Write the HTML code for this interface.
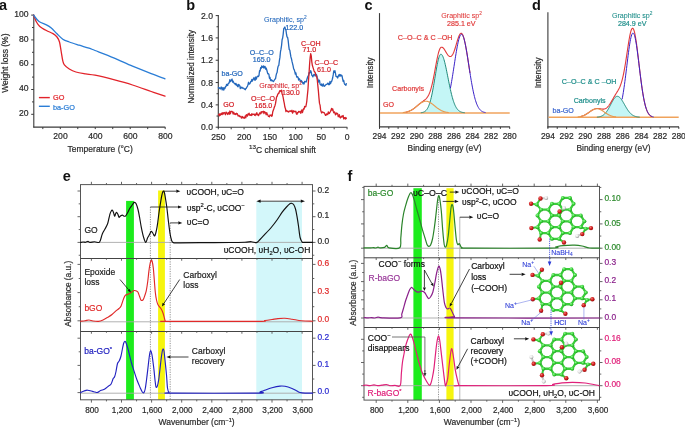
<!DOCTYPE html>
<html><head><meta charset="utf-8"><style>
html,body{margin:0;padding:0;background:#fff;overflow:hidden;}
svg{display:block;font-family:"Liberation Sans", sans-serif;filter:brightness(1);}
</style></head><body>
<svg width="685" height="427" viewBox="0 0 685 427">
<defs>
<radialGradient id="gC" cx="0.38" cy="0.35" r="0.7"><stop offset="0" stop-color="#9af79a"/><stop offset="0.5" stop-color="#3cd83c"/><stop offset="1" stop-color="#1a941a"/></radialGradient>
<radialGradient id="gO" cx="0.38" cy="0.35" r="0.7"><stop offset="0" stop-color="#f07a7a"/><stop offset="0.5" stop-color="#d41c1c"/><stop offset="1" stop-color="#8e0e0e"/></radialGradient>
<radialGradient id="gH" cx="0.38" cy="0.35" r="0.7"><stop offset="0" stop-color="#ffffff"/><stop offset="0.55" stop-color="#e2e2e2"/><stop offset="1" stop-color="#8a8a8a"/></radialGradient>
</defs>
<rect width="685" height="427" fill="#fff"/>
<text x="-0.90" y="9.50" font-size="14.5" fill="#111" text-anchor="start" font-weight="bold" >a</text>
<line x1="33.80" y1="14.50" x2="33.80" y2="127.60" stroke="#3a3a3a" stroke-width="1.1" />
<line x1="33.30" y1="127.10" x2="165.30" y2="127.10" stroke="#3a3a3a" stroke-width="1.1" />
<line x1="31.20" y1="15.10" x2="33.80" y2="15.10" stroke="#3a3a3a" stroke-width="1" />
<text x="28.50" y="16.70" font-size="8.6" fill="#2a2a2a" stroke="#2a2a2a" stroke-width="0.2" text-anchor="end" font-weight="normal" >100</text>
<line x1="31.20" y1="39.90" x2="33.80" y2="39.90" stroke="#3a3a3a" stroke-width="1" />
<text x="28.50" y="41.50" font-size="8.6" fill="#2a2a2a" stroke="#2a2a2a" stroke-width="0.2" text-anchor="end" font-weight="normal" >80</text>
<line x1="31.20" y1="64.70" x2="33.80" y2="64.70" stroke="#3a3a3a" stroke-width="1" />
<text x="28.50" y="66.30" font-size="8.6" fill="#2a2a2a" stroke="#2a2a2a" stroke-width="0.2" text-anchor="end" font-weight="normal" >60</text>
<line x1="31.20" y1="89.50" x2="33.80" y2="89.50" stroke="#3a3a3a" stroke-width="1" />
<text x="28.50" y="91.10" font-size="8.6" fill="#2a2a2a" stroke="#2a2a2a" stroke-width="0.2" text-anchor="end" font-weight="normal" >40</text>
<line x1="31.20" y1="114.30" x2="33.80" y2="114.30" stroke="#3a3a3a" stroke-width="1" />
<text x="28.50" y="115.90" font-size="8.6" fill="#2a2a2a" stroke="#2a2a2a" stroke-width="0.2" text-anchor="end" font-weight="normal" >20</text>
<line x1="32.00" y1="27.50" x2="33.80" y2="27.50" stroke="#3a3a3a" stroke-width="1" />
<line x1="32.00" y1="52.30" x2="33.80" y2="52.30" stroke="#3a3a3a" stroke-width="1" />
<line x1="32.00" y1="77.10" x2="33.80" y2="77.10" stroke="#3a3a3a" stroke-width="1" />
<line x1="32.00" y1="101.90" x2="33.80" y2="101.90" stroke="#3a3a3a" stroke-width="1" />
<line x1="42.82" y1="127.10" x2="42.82" y2="129.10" stroke="#3a3a3a" stroke-width="1" />
<line x1="60.30" y1="127.10" x2="60.30" y2="129.10" stroke="#3a3a3a" stroke-width="1" />
<text x="60.50" y="139.30" font-size="8.6" fill="#2a2a2a" stroke="#2a2a2a" stroke-width="0.2" text-anchor="middle" font-weight="normal" >200</text>
<line x1="77.78" y1="127.10" x2="77.78" y2="129.10" stroke="#3a3a3a" stroke-width="1" />
<line x1="95.26" y1="127.10" x2="95.26" y2="129.10" stroke="#3a3a3a" stroke-width="1" />
<text x="95.46" y="139.30" font-size="8.6" fill="#2a2a2a" stroke="#2a2a2a" stroke-width="0.2" text-anchor="middle" font-weight="normal" >400</text>
<line x1="112.74" y1="127.10" x2="112.74" y2="129.10" stroke="#3a3a3a" stroke-width="1" />
<line x1="130.22" y1="127.10" x2="130.22" y2="129.10" stroke="#3a3a3a" stroke-width="1" />
<text x="130.42" y="139.30" font-size="8.6" fill="#2a2a2a" stroke="#2a2a2a" stroke-width="0.2" text-anchor="middle" font-weight="normal" >600</text>
<line x1="147.70" y1="127.10" x2="147.70" y2="129.10" stroke="#3a3a3a" stroke-width="1" />
<line x1="165.18" y1="127.10" x2="165.18" y2="129.10" stroke="#3a3a3a" stroke-width="1" />
<text x="165.38" y="139.30" font-size="8.6" fill="#2a2a2a" stroke="#2a2a2a" stroke-width="0.2" text-anchor="middle" font-weight="normal" >800</text>
<text x="100.20" y="151.60" font-size="8.5" fill="#2a2a2a" stroke="#2a2a2a" stroke-width="0.2" text-anchor="middle" font-weight="normal" >Temperature (°C)</text>
<text x="0.00" y="0.00" font-size="8.5" fill="#2a2a2a" stroke="#2a2a2a" stroke-width="0.2" text-anchor="middle" font-weight="normal" transform="translate(8.4,63.2) rotate(-90)">Weight loss (%)</text>
<path d="M33.60,15.20 C34.10,16.38 35.57,20.43 36.60,22.30 C37.63,24.17 38.17,25.03 39.80,26.40 C41.43,27.77 44.20,29.30 46.40,30.50 C48.60,31.70 51.23,32.52 53.00,33.60 C54.77,34.68 55.92,35.60 57.00,37.00 C58.08,38.40 58.82,39.67 59.50,42.00 C60.18,44.33 60.55,47.87 61.10,51.00 C61.65,54.13 62.25,58.48 62.80,60.80 C63.35,63.12 63.32,63.53 64.40,64.90 C65.48,66.27 67.38,67.82 69.30,69.00 C71.22,70.18 73.17,71.18 75.90,72.00 C78.63,72.82 82.52,73.37 85.70,73.90 C88.88,74.43 90.33,74.23 95.00,75.20 C99.67,76.17 107.45,78.07 113.70,79.70 C119.95,81.33 126.25,83.03 132.50,85.00 C138.75,86.97 145.78,89.63 151.20,91.50 C156.62,93.37 162.70,95.42 165.00,96.20" fill="none" stroke="#e2232a" stroke-width="1.3" stroke-linejoin="round" stroke-linecap="round" />
<path d="M33.60,15.20 C34.50,16.25 36.87,19.90 39.00,21.50 C41.13,23.10 44.35,23.72 46.40,24.80 C48.45,25.88 49.53,26.50 51.30,28.00 C53.07,29.50 55.08,31.93 57.00,33.80 C58.92,35.67 60.75,37.83 62.80,39.20 C64.85,40.57 66.57,41.00 69.30,42.00 C72.03,43.00 75.92,44.17 79.20,45.20 C82.48,46.23 86.37,47.32 89.00,48.20 C91.63,49.08 90.88,48.90 95.00,50.50 C99.12,52.10 107.45,55.18 113.70,57.80 C119.95,60.42 126.25,63.55 132.50,66.20 C138.75,68.85 145.78,71.60 151.20,73.70 C156.62,75.80 162.70,77.95 165.00,78.80" fill="none" stroke="#2a7dd6" stroke-width="1.3" stroke-linejoin="round" stroke-linecap="round" />
<line x1="38.90" y1="97.60" x2="49.80" y2="97.60" stroke="#e2232a" stroke-width="1.4" />
<text x="53.00" y="100.30" font-size="7.3" fill="#e2232a" stroke="#e2232a" stroke-width="0.2" text-anchor="start" font-weight="normal" >GO</text>
<line x1="38.90" y1="106.30" x2="49.80" y2="106.30" stroke="#2a7dd6" stroke-width="1.4" />
<text x="53.00" y="109.50" font-size="7.3" fill="#2a7dd6" stroke="#2a7dd6" stroke-width="0.2" text-anchor="start" font-weight="normal" >ba-GO</text>
<text x="186.30" y="9.80" font-size="14.5" fill="#111" text-anchor="start" font-weight="bold" >b</text>
<line x1="218.30" y1="15.00" x2="218.30" y2="127.80" stroke="#3a3a3a" stroke-width="1.1" />
<line x1="217.80" y1="127.30" x2="347.30" y2="127.30" stroke="#3a3a3a" stroke-width="1.1" />
<line x1="215.70" y1="127.20" x2="218.30" y2="127.20" stroke="#3a3a3a" stroke-width="1" />
<text x="213.00" y="130.40" font-size="8.6" fill="#2a2a2a" stroke="#2a2a2a" stroke-width="0.2" text-anchor="end" font-weight="normal" >0.0</text>
<line x1="215.70" y1="104.88" x2="218.30" y2="104.88" stroke="#3a3a3a" stroke-width="1" />
<text x="213.00" y="108.08" font-size="8.6" fill="#2a2a2a" stroke="#2a2a2a" stroke-width="0.2" text-anchor="end" font-weight="normal" >0.4</text>
<line x1="215.70" y1="82.56" x2="218.30" y2="82.56" stroke="#3a3a3a" stroke-width="1" />
<text x="213.00" y="85.76" font-size="8.6" fill="#2a2a2a" stroke="#2a2a2a" stroke-width="0.2" text-anchor="end" font-weight="normal" >0.8</text>
<line x1="215.70" y1="60.24" x2="218.30" y2="60.24" stroke="#3a3a3a" stroke-width="1" />
<text x="213.00" y="63.44" font-size="8.6" fill="#2a2a2a" stroke="#2a2a2a" stroke-width="0.2" text-anchor="end" font-weight="normal" >1.2</text>
<line x1="215.70" y1="37.92" x2="218.30" y2="37.92" stroke="#3a3a3a" stroke-width="1" />
<text x="213.00" y="41.12" font-size="8.6" fill="#2a2a2a" stroke="#2a2a2a" stroke-width="0.2" text-anchor="end" font-weight="normal" >1.6</text>
<line x1="215.70" y1="15.60" x2="218.30" y2="15.60" stroke="#3a3a3a" stroke-width="1" />
<text x="213.00" y="18.80" font-size="8.6" fill="#2a2a2a" stroke="#2a2a2a" stroke-width="0.2" text-anchor="end" font-weight="normal" >2.0</text>
<line x1="216.50" y1="116.04" x2="218.30" y2="116.04" stroke="#3a3a3a" stroke-width="1" />
<line x1="216.50" y1="93.72" x2="218.30" y2="93.72" stroke="#3a3a3a" stroke-width="1" />
<line x1="216.50" y1="71.40" x2="218.30" y2="71.40" stroke="#3a3a3a" stroke-width="1" />
<line x1="216.50" y1="49.08" x2="218.30" y2="49.08" stroke="#3a3a3a" stroke-width="1" />
<line x1="216.50" y1="26.76" x2="218.30" y2="26.76" stroke="#3a3a3a" stroke-width="1" />
<line x1="218.30" y1="127.30" x2="218.30" y2="129.30" stroke="#3a3a3a" stroke-width="1" />
<text x="218.30" y="139.50" font-size="8.6" fill="#2a2a2a" stroke="#2a2a2a" stroke-width="0.2" text-anchor="middle" font-weight="normal" >250</text>
<line x1="231.18" y1="127.30" x2="231.18" y2="129.30" stroke="#3a3a3a" stroke-width="1" />
<line x1="244.05" y1="127.30" x2="244.05" y2="129.30" stroke="#3a3a3a" stroke-width="1" />
<text x="244.05" y="139.50" font-size="8.6" fill="#2a2a2a" stroke="#2a2a2a" stroke-width="0.2" text-anchor="middle" font-weight="normal" >200</text>
<line x1="256.93" y1="127.30" x2="256.93" y2="129.30" stroke="#3a3a3a" stroke-width="1" />
<line x1="269.80" y1="127.30" x2="269.80" y2="129.30" stroke="#3a3a3a" stroke-width="1" />
<text x="269.80" y="139.50" font-size="8.6" fill="#2a2a2a" stroke="#2a2a2a" stroke-width="0.2" text-anchor="middle" font-weight="normal" >150</text>
<line x1="282.68" y1="127.30" x2="282.68" y2="129.30" stroke="#3a3a3a" stroke-width="1" />
<line x1="295.55" y1="127.30" x2="295.55" y2="129.30" stroke="#3a3a3a" stroke-width="1" />
<text x="295.55" y="139.50" font-size="8.6" fill="#2a2a2a" stroke="#2a2a2a" stroke-width="0.2" text-anchor="middle" font-weight="normal" >100</text>
<line x1="308.43" y1="127.30" x2="308.43" y2="129.30" stroke="#3a3a3a" stroke-width="1" />
<line x1="321.30" y1="127.30" x2="321.30" y2="129.30" stroke="#3a3a3a" stroke-width="1" />
<text x="321.30" y="139.50" font-size="8.6" fill="#2a2a2a" stroke="#2a2a2a" stroke-width="0.2" text-anchor="middle" font-weight="normal" >50</text>
<line x1="334.18" y1="127.30" x2="334.18" y2="129.30" stroke="#3a3a3a" stroke-width="1" />
<line x1="347.05" y1="127.30" x2="347.05" y2="129.30" stroke="#3a3a3a" stroke-width="1" />
<text x="347.05" y="139.50" font-size="8.6" fill="#2a2a2a" stroke="#2a2a2a" stroke-width="0.2" text-anchor="middle" font-weight="normal" >0</text>
<text x="282.5" y="153" font-size="8.5" fill="#2a2a2a" stroke="#2a2a2a" stroke-width="0.2" text-anchor="middle"><tspan font-size="6.2" dy="-3.6">13</tspan><tspan dy="3.6">C chemical shift</tspan></text>
<text x="0.00" y="0.00" font-size="8.2" fill="#2a2a2a" stroke="#2a2a2a" stroke-width="0.2" text-anchor="middle" font-weight="normal" transform="translate(194.2,66.7) rotate(-90)">Normalized intensity</text>
<path d="M218.30,87.01 L218.85,88.19 L219.40,87.77 L219.95,88.73 L220.50,88.95 L221.05,87.18 L221.60,87.10 L222.15,89.96 L222.70,87.98 L223.25,87.78 L223.80,90.09 L224.35,87.89 L224.90,88.58 L225.45,86.72 L226.00,86.60 L226.55,84.29 L227.10,85.35 L227.65,85.47 L228.20,83.50 L228.75,83.42 L229.30,82.44 L229.85,79.75 L230.40,81.68 L230.95,80.87 L231.50,79.83 L232.05,79.05 L232.60,82.16 L233.15,81.19 L233.70,82.45 L234.25,83.46 L234.80,83.40 L235.35,84.62 L235.90,83.34 L236.45,85.22 L237.00,84.48 L237.55,86.57 L238.10,86.75 L238.65,84.45 L239.20,84.95 L239.75,85.59 L240.30,88.51 L240.85,87.07 L241.40,88.05 L241.95,87.26 L242.50,88.25 L243.05,88.07 L243.60,88.13 L244.15,89.00 L244.70,88.93 L245.25,89.73 L245.80,88.38 L246.35,88.31 L246.90,86.96 L247.45,86.41 L248.00,84.58 L248.55,82.26 L249.10,84.07 L249.65,83.87 L250.20,83.15 L250.75,81.50 L251.30,81.52 L251.85,79.36 L252.40,81.05 L252.95,79.79 L253.50,78.51 L254.05,77.52 L254.60,80.01 L255.15,80.28 L255.70,77.02 L256.25,79.21 L256.80,77.59 L257.35,76.28 L257.90,76.08 L258.45,76.60 L259.00,75.37 L259.55,70.71 L260.10,71.14 L260.65,67.72 L261.20,68.48 L261.75,65.95 L262.30,67.12 L262.85,67.31 L263.40,65.93 L263.95,68.09 L264.50,66.40 L265.05,66.39 L265.60,69.02 L266.15,68.04 L266.70,69.76 L267.25,71.78 L267.80,73.83 L268.35,73.63 L268.90,74.45 L269.45,78.28 L270.00,77.32 L270.55,80.35 L271.10,80.89 L271.65,79.75 L272.20,80.53 L272.75,81.13 L273.30,81.62 L273.85,81.02 L274.40,80.04 L274.95,79.11 L275.50,78.78 L276.05,75.60 L276.60,73.39 L277.15,72.20 L277.70,68.22 L278.25,65.91 L278.80,65.47 L279.35,60.93 L279.90,57.64 L280.45,51.97 L281.00,49.21 L281.55,45.59 L282.10,39.71 L282.65,38.01 L283.20,34.11 L283.75,28.57 L284.30,28.11 L284.85,26.98 L285.40,28.91 L285.95,30.18 L286.50,34.22 L287.05,37.05 L287.60,37.35 L288.15,40.42 L288.70,45.55 L289.25,49.57 L289.80,50.12 L290.35,53.64 L290.90,56.91 L291.45,58.71 L292.00,61.41 L292.55,63.57 L293.10,65.97 L293.65,68.83 L294.20,69.66 L294.75,71.48 L295.30,74.15 L295.85,72.78 L296.40,75.68 L296.95,77.22 L297.50,76.69 L298.05,77.23 L298.60,79.99 L299.15,78.78 L299.70,79.25 L300.25,80.66 L300.80,82.08 L301.35,80.51 L301.90,81.64 L302.45,81.98 L303.00,83.89 L303.55,82.63 L304.10,83.98 L304.65,81.38 L305.20,81.49 L305.75,81.91 L306.30,81.92 L306.85,79.52 L307.40,77.75 L307.95,76.14 L308.50,75.76 L309.05,72.66 L309.60,73.15 L310.15,72.55 L310.70,70.68 L311.25,72.11 L311.80,75.25 L312.35,75.78 L312.90,76.88 L313.45,75.33 L314.00,74.39 L314.55,74.62 L315.10,76.00 L315.65,74.00 L316.20,74.32 L316.75,75.40 L317.30,77.67 L317.85,79.39 L318.40,82.08 L318.95,80.23 L319.50,80.40 L320.05,84.20 L320.60,84.53 L321.15,85.38 L321.70,83.91 L322.25,86.00 L322.80,86.18 L323.35,83.95 L323.90,85.84 L324.45,86.22 L325.00,85.65 L325.55,85.14 L326.10,84.30 L326.65,84.38 L327.20,83.85 L327.75,83.11 L328.30,84.64 L328.85,83.30 L329.40,84.67 L329.95,81.51 L330.50,83.70 L331.05,82.04 L331.60,81.57 L332.15,79.75 L332.70,77.76 L333.25,74.64 L333.80,70.94 L334.35,72.30 L334.90,70.63 L335.45,73.23 L336.00,76.49 L336.55,76.80 L337.10,76.43 L337.65,77.96 L338.20,76.47 L338.75,75.14 L339.30,74.45 L339.85,76.20 L340.40,74.72 L340.95,75.91 L341.50,75.12 L342.05,75.94 L342.60,78.87 L343.15,81.44 L343.70,80.31 L344.25,83.23 L344.80,84.38 L345.35,84.65 L345.90,85.35 L346.45,83.19" fill="none" stroke="#2468bc" stroke-width="1.3" stroke-linejoin="round" />
<path d="M218.30,115.10 L218.85,114.34 L219.40,115.87 L219.95,113.72 L220.50,115.12 L221.05,114.37 L221.60,113.16 L222.15,114.53 L222.70,112.77 L223.25,113.97 L223.80,112.59 L224.35,112.52 L224.90,113.51 L225.45,114.72 L226.00,112.17 L226.55,112.36 L227.10,113.58 L227.65,114.52 L228.20,113.13 L228.75,112.40 L229.30,114.26 L229.85,111.02 L230.40,113.72 L230.95,111.77 L231.50,111.30 L232.05,111.29 L232.60,112.09 L233.15,114.01 L233.70,112.10 L234.25,113.76 L234.80,114.27 L235.35,113.69 L235.90,114.61 L236.45,113.26 L237.00,113.50 L237.55,114.25 L238.10,116.14 L238.65,115.57 L239.20,115.47 L239.75,116.68 L240.30,116.50 L240.85,116.22 L241.40,118.12 L241.95,117.95 L242.50,116.50 L243.05,117.65 L243.60,117.40 L244.15,118.41 L244.70,117.67 L245.25,115.85 L245.80,117.86 L246.35,114.57 L246.90,115.25 L247.45,116.11 L248.00,113.82 L248.55,114.79 L249.10,113.11 L249.65,115.11 L250.20,115.33 L250.75,114.59 L251.30,115.54 L251.85,113.56 L252.40,114.79 L252.95,114.40 L253.50,114.32 L254.05,113.90 L254.60,115.21 L255.15,115.58 L255.70,113.99 L256.25,114.64 L256.80,112.59 L257.35,114.74 L257.90,114.51 L258.45,115.61 L259.00,114.90 L259.55,112.93 L260.10,113.11 L260.65,113.90 L261.20,111.54 L261.75,112.88 L262.30,111.76 L262.85,111.50 L263.40,111.26 L263.95,113.69 L264.50,111.60 L265.05,112.19 L265.60,112.93 L266.15,114.88 L266.70,112.54 L267.25,114.15 L267.80,114.86 L268.35,116.34 L268.90,116.44 L269.45,116.84 L270.00,115.00 L270.55,115.45 L271.10,115.02 L271.65,116.32 L272.20,115.75 L272.75,111.76 L273.30,110.26 L273.85,108.74 L274.40,106.96 L274.95,105.67 L275.50,103.65 L276.05,100.09 L276.60,96.86 L277.15,96.22 L277.70,94.36 L278.25,93.51 L278.80,93.54 L279.35,91.71 L279.90,90.63 L280.45,90.93 L281.00,91.47 L281.55,90.07 L282.10,94.06 L282.65,95.20 L283.20,97.71 L283.75,100.85 L284.30,103.43 L284.85,106.98 L285.40,108.40 L285.95,111.58 L286.50,110.40 L287.05,110.83 L287.60,111.51 L288.15,111.43 L288.70,112.09 L289.25,111.20 L289.80,111.01 L290.35,111.31 L290.90,110.87 L291.45,111.53 L292.00,110.24 L292.55,113.08 L293.10,112.22 L293.65,110.74 L294.20,111.21 L294.75,111.68 L295.30,111.88 L295.85,111.20 L296.40,113.80 L296.95,114.41 L297.50,112.70 L298.05,112.82 L298.60,111.47 L299.15,111.47 L299.70,112.13 L300.25,111.64 L300.80,113.29 L301.35,110.70 L301.90,109.84 L302.45,112.53 L303.00,110.55 L303.55,108.59 L304.10,109.15 L304.65,106.41 L305.20,106.88 L305.75,106.85 L306.30,104.35 L306.85,100.78 L307.40,95.13 L307.95,89.59 L308.50,80.43 L309.05,73.20 L309.60,64.15 L310.15,57.55 L310.70,53.59 L311.25,55.82 L311.80,61.86 L312.35,65.28 L312.90,67.10 L313.45,68.88 L314.00,70.65 L314.55,72.06 L315.10,72.06 L315.65,74.86 L316.20,75.85 L316.75,76.88 L317.30,80.25 L317.85,85.84 L318.40,91.14 L318.95,97.90 L319.50,103.41 L320.05,105.18 L320.60,109.63 L321.15,111.82 L321.70,113.02 L322.25,111.91 L322.80,112.07 L323.35,112.51 L323.90,112.69 L324.45,112.88 L325.00,114.40 L325.55,115.36 L326.10,115.13 L326.65,113.82 L327.20,114.28 L327.75,114.60 L328.30,111.84 L328.85,113.28 L329.40,113.49 L329.95,112.34 L330.50,111.50 L331.05,109.90 L331.60,108.35 L332.15,110.19 L332.70,108.82 L333.25,111.19 L333.80,112.88 L334.35,111.84 L334.90,112.45 L335.45,114.78 L336.00,114.47 L336.55,113.01 L337.10,113.27 L337.65,113.72 L338.20,116.63 L338.75,116.62 L339.30,114.67 L339.85,117.24 L340.40,117.99 L340.95,117.09 L341.50,116.22 L342.05,117.05 L342.60,115.77 L343.15,115.51 L343.70,118.89 L344.25,117.92 L344.80,117.62 L345.35,119.12 L345.90,117.53 L346.45,119.14" fill="none" stroke="#d42028" stroke-width="1.3" stroke-linejoin="round" />
<text x="264.1" y="21.9" font-size="7.1" fill="#2468bc" stroke="#2468bc" stroke-width="0.08">Graphitic, sp<tspan font-size="4.8" dy="-2.8">2</tspan></text>
<text x="285.40" y="29.60" font-size="7.1" fill="#2468bc" stroke="#2468bc" stroke-width="0.2" text-anchor="start" font-weight="normal" >122.0</text>
<text x="261.70" y="54.80" font-size="7.1" fill="#2468bc" stroke="#2468bc" stroke-width="0.2" text-anchor="middle" font-weight="normal" >O–C–O</text>
<text x="261.70" y="61.70" font-size="7.1" fill="#2468bc" stroke="#2468bc" stroke-width="0.2" text-anchor="middle" font-weight="normal" >165.0</text>
<text x="221.60" y="75.80" font-size="7.1" fill="#2468bc" stroke="#2468bc" stroke-width="0.2" text-anchor="start" font-weight="normal" >ba-GO</text>
<text x="310.90" y="45.50" font-size="7.1" fill="#d42028" stroke="#d42028" stroke-width="0.2" text-anchor="middle" font-weight="normal" >C–OH</text>
<text x="309.40" y="52.10" font-size="7.1" fill="#d42028" stroke="#d42028" stroke-width="0.2" text-anchor="middle" font-weight="normal" >71.0</text>
<text x="326.40" y="65.20" font-size="7.1" fill="#d42028" stroke="#d42028" stroke-width="0.2" text-anchor="middle" font-weight="normal" >C–O–C</text>
<text x="324.00" y="71.90" font-size="7.1" fill="#d42028" stroke="#d42028" stroke-width="0.2" text-anchor="middle" font-weight="normal" >61.0</text>
<text x="223.20" y="107.10" font-size="7.1" fill="#d42028" stroke="#d42028" stroke-width="0.2" text-anchor="start" font-weight="normal" >GO</text>
<text x="263.00" y="101.40" font-size="7.1" fill="#d42028" stroke="#d42028" stroke-width="0.2" text-anchor="middle" font-weight="normal" >O=C–O</text>
<text x="263.40" y="108.40" font-size="7.1" fill="#d42028" stroke="#d42028" stroke-width="0.2" text-anchor="middle" font-weight="normal" >165.0</text>
<text x="259.3" y="88.2" font-size="7.1" fill="#d42028" stroke="#d42028" stroke-width="0.08">Graphitic, sp<tspan font-size="4.8" dy="-2.8">2</tspan></text>
<text x="282.00" y="95.00" font-size="7.1" fill="#d42028" stroke="#d42028" stroke-width="0.2" text-anchor="start" font-weight="normal" >130.0</text>
<text x="364.60" y="10.10" font-size="14.5" fill="#111" text-anchor="start" font-weight="bold" >c</text>
<line x1="379.50" y1="13.10" x2="379.50" y2="127.40" stroke="#3a3a3a" stroke-width="1.1" />
<line x1="379.00" y1="126.90" x2="509.90" y2="126.90" stroke="#3a3a3a" stroke-width="1.1" />
<line x1="379.50" y1="126.90" x2="379.50" y2="128.90" stroke="#3a3a3a" stroke-width="1" />
<text x="379.50" y="139.30" font-size="8.4" fill="#2a2a2a" stroke="#2a2a2a" stroke-width="0.2" text-anchor="middle" font-weight="normal" >294</text>
<line x1="388.80" y1="126.90" x2="388.80" y2="128.90" stroke="#3a3a3a" stroke-width="1" />
<line x1="398.10" y1="126.90" x2="398.10" y2="128.90" stroke="#3a3a3a" stroke-width="1" />
<text x="398.10" y="139.30" font-size="8.4" fill="#2a2a2a" stroke="#2a2a2a" stroke-width="0.2" text-anchor="middle" font-weight="normal" >292</text>
<line x1="407.40" y1="126.90" x2="407.40" y2="128.90" stroke="#3a3a3a" stroke-width="1" />
<line x1="416.70" y1="126.90" x2="416.70" y2="128.90" stroke="#3a3a3a" stroke-width="1" />
<text x="416.70" y="139.30" font-size="8.4" fill="#2a2a2a" stroke="#2a2a2a" stroke-width="0.2" text-anchor="middle" font-weight="normal" >290</text>
<line x1="426.00" y1="126.90" x2="426.00" y2="128.90" stroke="#3a3a3a" stroke-width="1" />
<line x1="435.30" y1="126.90" x2="435.30" y2="128.90" stroke="#3a3a3a" stroke-width="1" />
<text x="435.30" y="139.30" font-size="8.4" fill="#2a2a2a" stroke="#2a2a2a" stroke-width="0.2" text-anchor="middle" font-weight="normal" >288</text>
<line x1="444.60" y1="126.90" x2="444.60" y2="128.90" stroke="#3a3a3a" stroke-width="1" />
<line x1="453.90" y1="126.90" x2="453.90" y2="128.90" stroke="#3a3a3a" stroke-width="1" />
<text x="453.90" y="139.30" font-size="8.4" fill="#2a2a2a" stroke="#2a2a2a" stroke-width="0.2" text-anchor="middle" font-weight="normal" >286</text>
<line x1="463.20" y1="126.90" x2="463.20" y2="128.90" stroke="#3a3a3a" stroke-width="1" />
<line x1="472.50" y1="126.90" x2="472.50" y2="128.90" stroke="#3a3a3a" stroke-width="1" />
<text x="472.50" y="139.30" font-size="8.4" fill="#2a2a2a" stroke="#2a2a2a" stroke-width="0.2" text-anchor="middle" font-weight="normal" >284</text>
<line x1="481.80" y1="126.90" x2="481.80" y2="128.90" stroke="#3a3a3a" stroke-width="1" />
<line x1="491.10" y1="126.90" x2="491.10" y2="128.90" stroke="#3a3a3a" stroke-width="1" />
<text x="491.10" y="139.30" font-size="8.4" fill="#2a2a2a" stroke="#2a2a2a" stroke-width="0.2" text-anchor="middle" font-weight="normal" >282</text>
<line x1="500.40" y1="126.90" x2="500.40" y2="128.90" stroke="#3a3a3a" stroke-width="1" />
<line x1="509.70" y1="126.90" x2="509.70" y2="128.90" stroke="#3a3a3a" stroke-width="1" />
<text x="509.70" y="139.30" font-size="8.4" fill="#2a2a2a" stroke="#2a2a2a" stroke-width="0.2" text-anchor="middle" font-weight="normal" >280</text>
<text x="444.60" y="151.10" font-size="8.4" fill="#2a2a2a" stroke="#2a2a2a" stroke-width="0.2" text-anchor="middle" font-weight="normal" >Binding energy (eV)</text>
<text x="0.00" y="0.00" font-size="8.3" fill="#2a2a2a" stroke="#2a2a2a" stroke-width="0.2" text-anchor="middle" font-weight="normal" transform="translate(373.2,72.7) rotate(-90)">Intensity</text>
<path d="M418.80,112.85 L419.20,112.83 L419.60,112.81 L420.00,112.79 L420.40,112.76 L420.80,112.72 L421.20,112.68 L421.60,112.62 L422.00,112.55 L422.40,112.47 L422.80,112.37 L423.20,112.25 L423.60,112.10 L424.00,111.93 L424.40,111.72 L424.80,111.48 L425.20,111.20 L425.60,110.87 L426.00,110.48 L426.40,110.04 L426.80,109.52 L427.20,108.94 L427.60,108.27 L428.00,107.52 L428.40,106.68 L428.80,105.73 L429.20,104.68 L429.60,103.52 L430.00,102.25 L430.40,100.85 L430.80,99.34 L431.20,97.71 L431.60,95.95 L432.00,94.08 L432.40,92.11 L432.80,90.03 L433.20,87.85 L433.60,85.60 L434.00,83.28 L434.40,80.91 L434.80,78.50 L435.20,76.09 L435.60,73.69 L436.00,71.32 L436.40,69.01 L436.80,66.79 L437.20,64.68 L437.60,62.70 L438.00,60.88 L438.40,59.24 L438.80,57.80 L439.20,56.59 L439.60,55.61 L440.00,54.88 L440.40,54.41 L440.80,54.21 L441.20,54.25 L441.60,54.49 L442.00,54.92 L442.40,55.53 L442.80,56.32 L443.20,57.28 L443.60,58.41 L444.00,59.68 L444.40,61.10 L444.80,62.64 L445.20,64.29 L445.60,66.05 L446.00,67.88 L446.40,69.79 L446.80,71.75 L447.20,73.75 L447.60,75.77 L448.00,77.81 L448.40,79.84 L448.80,81.85 L449.20,83.84 L449.60,85.78 L450.00,87.68 L450.40,89.53 L450.80,91.31 L451.20,93.02 L451.60,94.65 L452.00,96.20 L452.40,97.67 L452.80,99.06 L453.20,100.36 L453.60,101.58 L454.00,102.71 L454.40,103.76 L454.80,104.73 L455.20,105.62 L455.60,106.43 L456.00,107.17 L456.40,107.84 L456.80,108.45 L457.20,109.00 L457.60,109.49 L458.00,109.93 L458.40,110.32 L458.80,110.67 L459.20,110.97 L459.60,111.24 L460.00,111.48 L460.40,111.69 L460.80,111.87 L461.20,112.02 L461.60,112.16 L462.00,112.28 L462.40,112.38 L462.80,112.46 L463.20,112.53 L463.60,112.59 L464.00,112.65 L464.40,112.69 L464.80,112.73 L465.20,112.76 L465.60,112.78 L466.00,112.81 L466.40,112.82 L466.80,112.84 L467.20,112.85 Z" fill="#c4f6f6" stroke="none"/>
<line x1="380.00" y1="112.90" x2="509.70" y2="112.90" stroke="#f0a35c" stroke-width="1.45" />
<path d="M420.80,112.72 L421.20,112.68 L421.60,112.62 L422.00,112.55 L422.40,112.47 L422.80,112.37 L423.20,112.25 L423.60,112.10 L424.00,111.93 L424.40,111.72 L424.80,111.48 L425.20,111.20 L425.60,110.87 L426.00,110.48 L426.40,110.04 L426.80,109.52 L427.20,108.94 L427.60,108.27 L428.00,107.52 L428.40,106.68 L428.80,105.73 L429.20,104.68 L429.60,103.52 L430.00,102.25 L430.40,100.85 L430.80,99.34 L431.20,97.71 L431.60,95.95 L432.00,94.08 L432.40,92.11 L432.80,90.03 L433.20,87.85 L433.60,85.60 L434.00,83.28 L434.40,80.91 L434.80,78.50 L435.20,76.09 L435.60,73.69 L436.00,71.32 L436.40,69.01 L436.80,66.79 L437.20,64.68 L437.60,62.70 L438.00,60.88 L438.40,59.24 L438.80,57.80 L439.20,56.59 L439.60,55.61 L440.00,54.88 L440.40,54.41 L440.80,54.21 L441.20,54.25 L441.60,54.49 L442.00,54.92 L442.40,55.53 L442.80,56.32 L443.20,57.28 L443.60,58.41 L444.00,59.68 L444.40,61.10 L444.80,62.64 L445.20,64.29 L445.60,66.05 L446.00,67.88 L446.40,69.79 L446.80,71.75 L447.20,73.75 L447.60,75.77 L448.00,77.81 L448.40,79.84 L448.80,81.85 L449.20,83.84 L449.60,85.78 L450.00,87.68 L450.40,89.53 L450.80,91.31 L451.20,93.02 L451.60,94.65 L452.00,96.20 L452.40,97.67 L452.80,99.06 L453.20,100.36 L453.60,101.58 L454.00,102.71 L454.40,103.76 L454.80,104.73 L455.20,105.62 L455.60,106.43 L456.00,107.17 L456.40,107.84 L456.80,108.45 L457.20,109.00 L457.60,109.49 L458.00,109.93 L458.40,110.32 L458.80,110.67 L459.20,110.97 L459.60,111.24 L460.00,111.48 L460.40,111.69 L460.80,111.87 L461.20,112.02 L461.60,112.16 L462.00,112.28 L462.40,112.38 L462.80,112.46 L463.20,112.53 L463.60,112.59 L464.00,112.65 L464.40,112.69 L464.80,112.73" fill="none" stroke="#1f8a7a" stroke-width="1.0" stroke-linejoin="round" />
<path d="M405.60,112.18 L406.00,112.10 L406.40,112.01 L406.80,111.91 L407.20,111.80 L407.60,111.68 L408.00,111.56 L408.40,111.42 L408.80,111.28 L409.20,111.12 L409.60,110.96 L410.00,110.78 L410.40,110.59 L410.80,110.40 L411.20,110.18 L411.60,109.96 L412.00,109.73 L412.40,109.49 L412.80,109.23 L413.20,108.97 L413.60,108.69 L414.00,108.41 L414.40,108.11 L414.80,107.81 L415.20,107.50 L415.60,107.18 L416.00,106.86 L416.40,106.53 L416.80,106.20 L417.20,105.87 L417.60,105.53 L418.00,105.20 L418.40,104.86 L418.80,104.53 L419.20,104.19 L419.60,103.87 L420.00,103.54 L420.40,103.22 L420.80,102.91 L421.20,102.60 L421.60,102.30 L422.00,102.00 L422.40,101.70 L422.80,101.40 L423.20,101.11 L423.60,100.81 L424.00,100.51 L424.40,100.20 L424.80,99.88 L425.20,99.53 L425.60,99.17 L426.00,98.78 L426.40,98.35 L426.80,97.88 L427.20,97.36 L427.60,96.79 L428.00,96.15 L428.40,95.44 L428.80,94.65 L429.20,93.78 L429.60,92.81 L430.00,91.75 L430.40,90.58 L430.80,89.30 L431.20,87.92 L431.60,86.43 L432.00,84.82 L432.40,83.11 L432.80,81.31 L433.20,79.40 L433.60,77.42 L434.00,75.36 L434.40,73.24 L434.80,71.09 L435.20,68.91 L435.60,66.72 L436.00,64.55 L436.40,62.42 L436.80,60.36 L437.20,58.38 L437.60,56.50 L438.00,54.75 L438.40,53.16 L438.80,51.72 L439.20,50.47 L439.60,49.42 L440.00,48.57 L440.40,47.94 L440.80,47.52 L441.20,47.29 L441.60,47.19 L442.00,47.23 L442.40,47.37 L442.80,47.63 L443.20,47.99 L443.60,48.43 L444.00,48.94 L444.40,49.51 L444.80,50.13 L445.20,50.78 L445.60,51.45 L446.00,52.12 L446.40,52.78 L446.80,53.42 L447.20,54.02 L447.60,54.59 L448.00,55.09 L448.40,55.54 L448.80,55.91 L449.20,56.20 L449.60,56.40 L450.00,56.51 L450.40,56.52 L450.80,56.42 L451.20,56.21 L451.60,55.88 L452.00,55.44 L452.40,54.88 L452.80,54.20 L453.20,53.41 L453.60,52.51 L454.00,51.50 L454.40,50.40 L454.80,49.22 L455.20,47.96 L455.60,46.65 L456.00,45.30 L456.40,43.93 L456.80,42.56 L457.20,41.21 L457.60,39.91 L458.00,38.66 L458.40,37.50 L458.80,36.45 L459.20,35.51 L459.60,34.72 L460.00,34.09 L460.40,33.63 L460.80,33.36 L461.20,33.28 L461.60,33.40 L462.00,33.74 L462.40,34.28 L462.80,35.03 L463.20,35.98 L463.60,37.14 L464.00,38.49 L464.40,40.03 L464.80,41.75 L465.20,43.62 L465.60,45.65 L466.00,47.80 L466.40,50.07 L466.80,52.45 L467.20,54.90 L467.60,57.42 L468.00,59.99 L468.40,62.59 L468.80,65.21 L469.20,67.82 L469.60,70.42 L470.00,72.99" fill="none" stroke="#e23a3a" stroke-width="1.1" stroke-linejoin="round" />
<path d="M402.80,112.58 L403.20,112.54 L403.60,112.49 L404.00,112.44 L404.40,112.39 L404.80,112.32 L405.20,112.25 L405.60,112.18 L406.00,112.10 L406.40,112.01 L406.80,111.91 L407.20,111.80 L407.60,111.68 L408.00,111.56 L408.40,111.42 L408.80,111.28 L409.20,111.12 L409.60,110.96 L410.00,110.78 L410.40,110.59 L410.80,110.40 L411.20,110.19 L411.60,109.96 L412.00,109.73 L412.40,109.49 L412.80,109.23 L413.20,108.97 L413.60,108.69 L414.00,108.41 L414.40,108.11 L414.80,107.81 L415.20,107.50 L415.60,107.19 L416.00,106.87 L416.40,106.54 L416.80,106.22 L417.20,105.89 L417.60,105.56 L418.00,105.23 L418.40,104.90 L418.80,104.58 L419.20,104.26 L419.60,103.95 L420.00,103.65 L420.40,103.36 L420.80,103.09 L421.20,102.82 L421.60,102.57 L422.00,102.34 L422.40,102.13 L422.80,101.94 L423.20,101.76 L423.60,101.61 L424.00,101.48 L424.40,101.38 L424.80,101.30 L425.20,101.24 L425.60,101.21 L426.00,101.20 L426.40,101.22 L426.80,101.26 L427.20,101.33 L427.60,101.43 L428.00,101.54 L428.40,101.68 L428.80,101.85 L429.20,102.03 L429.60,102.23 L430.00,102.46 L430.40,102.70 L430.80,102.95 L431.20,103.22 L431.60,103.51 L432.00,103.80 L432.40,104.11 L432.80,104.42 L433.20,104.74 L433.60,105.06 L434.00,105.39 L434.40,105.72 L434.80,106.05 L435.20,106.38 L435.60,106.71 L436.00,107.03 L436.40,107.35 L436.80,107.66 L437.20,107.97 L437.60,108.26 L438.00,108.55 L438.40,108.83 L438.80,109.10 L439.20,109.36 L439.60,109.61 L440.00,109.85 L440.40,110.08 L440.80,110.29 L441.20,110.50 L441.60,110.69 L442.00,110.87 L442.40,111.04 L442.80,111.20 L443.20,111.35 L443.60,111.49 L444.00,111.62 L444.40,111.74 L444.80,111.85 L445.20,111.96 L445.60,112.05 L446.00,112.14 L446.40,112.22 L446.80,112.29 L447.20,112.36 L447.60,112.42 L448.00,112.47 L448.40,112.52 L448.80,112.56" fill="none" stroke="#e89a50" stroke-width="1.15" stroke-linejoin="round" />
<path d="M450.40,88.16 L450.80,86.05 L451.20,83.85 L451.60,81.56 L452.00,79.20 L452.40,76.76 L452.80,74.26 L453.20,71.72 L453.60,69.14 L454.00,66.53 L454.40,63.92 L454.80,61.32 L455.20,58.74 L455.60,56.20 L456.00,53.72 L456.40,51.32 L456.80,49.01 L457.20,46.82 L457.60,44.75 L458.00,42.83 L458.40,41.08 L458.80,39.50 L459.20,38.11 L459.60,36.92 L460.00,35.94 L460.40,35.19 L460.80,34.66 L461.20,34.37 L461.60,34.31 L462.00,34.48 L462.40,34.90 L462.80,35.54 L463.20,36.40 L463.60,37.49 L464.00,38.78 L464.40,40.26 L464.80,41.93 L465.20,43.77 L465.60,45.77 L466.00,47.90 L466.40,50.15 L466.80,52.51 L467.20,54.95 L467.60,57.46 L468.00,60.02 L468.40,62.62 L468.80,65.23 L469.20,67.84 L469.60,70.43 L470.00,73.00 L470.40,75.52 L470.80,77.99 L471.20,80.39 L471.60,82.72 L472.00,84.96 L472.40,87.12 L472.80,89.18 L473.20,91.14 L473.60,93.00 L474.00,94.76 L474.40,96.41 L474.80,97.95 L475.20,99.39 L475.60,100.73 L476.00,101.97 L476.40,103.11 L476.80,104.16 L477.20,105.12 L477.60,105.99 L478.00,106.79 L478.40,107.51 L478.80,108.16 L479.20,108.74 L479.60,109.27 L480.00,109.73 L480.40,110.15 L480.80,110.51 L481.20,110.84 L481.60,111.13 L482.00,111.38 L482.40,111.60 L482.80,111.79 L483.20,111.95 L483.60,112.10 L484.00,112.22 L484.40,112.33 L484.80,112.42 L485.20,112.50 L485.60,112.56" fill="none" stroke="#3a22c8" stroke-width="1.0" stroke-linejoin="round" />
<text x="441.3" y="17.5" font-size="7.1" fill="#e03a3a" stroke="#e03a3a" stroke-width="0.08">Graphitic sp<tspan font-size="4.8" dy="-2.8">2</tspan></text>
<text x="461.30" y="26.00" font-size="7.1" fill="#e03a3a" stroke="#e03a3a" stroke-width="0.2" text-anchor="middle" font-weight="normal" >285.1 eV</text>
<text x="397.80" y="39.70" font-size="7.2" fill="#e03a3a" stroke="#e03a3a" stroke-width="0.2" text-anchor="start" font-weight="normal" >C–O–C &amp; C –OH</text>
<text x="392.10" y="91.00" font-size="7.1" fill="#e03a3a" stroke="#e03a3a" stroke-width="0.2" text-anchor="start" font-weight="normal" >Carbonyls</text>
<text x="383.00" y="107.30" font-size="7.1" fill="#e03a3a" stroke="#e03a3a" stroke-width="0.2" text-anchor="start" font-weight="normal" >GO</text>
<text x="532.00" y="9.60" font-size="14.5" fill="#111" text-anchor="start" font-weight="bold" >d</text>
<line x1="547.90" y1="12.20" x2="547.90" y2="127.40" stroke="#3a3a3a" stroke-width="1.1" />
<line x1="547.40" y1="126.90" x2="679.00" y2="126.90" stroke="#3a3a3a" stroke-width="1.1" />
<line x1="547.90" y1="126.90" x2="547.90" y2="128.90" stroke="#3a3a3a" stroke-width="1" />
<text x="547.90" y="139.30" font-size="8.4" fill="#2a2a2a" stroke="#2a2a2a" stroke-width="0.2" text-anchor="middle" font-weight="normal" >294</text>
<line x1="557.25" y1="126.90" x2="557.25" y2="128.90" stroke="#3a3a3a" stroke-width="1" />
<line x1="566.60" y1="126.90" x2="566.60" y2="128.90" stroke="#3a3a3a" stroke-width="1" />
<text x="566.60" y="139.30" font-size="8.4" fill="#2a2a2a" stroke="#2a2a2a" stroke-width="0.2" text-anchor="middle" font-weight="normal" >292</text>
<line x1="575.95" y1="126.90" x2="575.95" y2="128.90" stroke="#3a3a3a" stroke-width="1" />
<line x1="585.30" y1="126.90" x2="585.30" y2="128.90" stroke="#3a3a3a" stroke-width="1" />
<text x="585.30" y="139.30" font-size="8.4" fill="#2a2a2a" stroke="#2a2a2a" stroke-width="0.2" text-anchor="middle" font-weight="normal" >290</text>
<line x1="594.65" y1="126.90" x2="594.65" y2="128.90" stroke="#3a3a3a" stroke-width="1" />
<line x1="604.00" y1="126.90" x2="604.00" y2="128.90" stroke="#3a3a3a" stroke-width="1" />
<text x="604.00" y="139.30" font-size="8.4" fill="#2a2a2a" stroke="#2a2a2a" stroke-width="0.2" text-anchor="middle" font-weight="normal" >288</text>
<line x1="613.35" y1="126.90" x2="613.35" y2="128.90" stroke="#3a3a3a" stroke-width="1" />
<line x1="622.70" y1="126.90" x2="622.70" y2="128.90" stroke="#3a3a3a" stroke-width="1" />
<text x="622.70" y="139.30" font-size="8.4" fill="#2a2a2a" stroke="#2a2a2a" stroke-width="0.2" text-anchor="middle" font-weight="normal" >286</text>
<line x1="632.05" y1="126.90" x2="632.05" y2="128.90" stroke="#3a3a3a" stroke-width="1" />
<line x1="641.40" y1="126.90" x2="641.40" y2="128.90" stroke="#3a3a3a" stroke-width="1" />
<text x="641.40" y="139.30" font-size="8.4" fill="#2a2a2a" stroke="#2a2a2a" stroke-width="0.2" text-anchor="middle" font-weight="normal" >284</text>
<line x1="650.75" y1="126.90" x2="650.75" y2="128.90" stroke="#3a3a3a" stroke-width="1" />
<line x1="660.10" y1="126.90" x2="660.10" y2="128.90" stroke="#3a3a3a" stroke-width="1" />
<text x="660.10" y="139.30" font-size="8.4" fill="#2a2a2a" stroke="#2a2a2a" stroke-width="0.2" text-anchor="middle" font-weight="normal" >282</text>
<line x1="669.45" y1="126.90" x2="669.45" y2="128.90" stroke="#3a3a3a" stroke-width="1" />
<line x1="678.80" y1="126.90" x2="678.80" y2="128.90" stroke="#3a3a3a" stroke-width="1" />
<text x="678.80" y="139.30" font-size="8.4" fill="#2a2a2a" stroke="#2a2a2a" stroke-width="0.2" text-anchor="middle" font-weight="normal" >280</text>
<text x="613.50" y="151.10" font-size="8.4" fill="#2a2a2a" stroke="#2a2a2a" stroke-width="0.2" text-anchor="middle" font-weight="normal" >Binding energy (eV)</text>
<text x="0.00" y="0.00" font-size="8.3" fill="#2a2a2a" stroke="#2a2a2a" stroke-width="0.2" text-anchor="middle" font-weight="normal" transform="translate(540.9,72.8) rotate(-90)">Intensity</text>
<path d="M594.50,117.25 L594.90,117.23 L595.30,117.22 L595.70,117.20 L596.10,117.18 L596.50,117.15 L596.90,117.12 L597.30,117.09 L597.70,117.04 L598.10,116.99 L598.50,116.94 L598.90,116.87 L599.30,116.79 L599.70,116.70 L600.10,116.60 L600.50,116.48 L600.90,116.34 L601.30,116.19 L601.70,116.01 L602.10,115.82 L602.50,115.60 L602.90,115.36 L603.30,115.09 L603.70,114.79 L604.10,114.46 L604.50,114.10 L604.90,113.70 L605.30,113.28 L605.70,112.82 L606.10,112.32 L606.50,111.79 L606.90,111.23 L607.30,110.64 L607.70,110.01 L608.10,109.35 L608.50,108.67 L608.90,107.96 L609.30,107.23 L609.70,106.48 L610.10,105.72 L610.50,104.95 L610.90,104.18 L611.30,103.41 L611.70,102.65 L612.10,101.90 L612.50,101.18 L612.90,100.48 L613.30,99.82 L613.70,99.20 L614.10,98.63 L614.50,98.11 L614.90,97.64 L615.30,97.24 L615.70,96.91 L616.10,96.64 L616.50,96.45 L616.90,96.34 L617.30,96.30 L617.70,96.33 L618.10,96.43 L618.50,96.59 L618.90,96.81 L619.30,97.09 L619.70,97.43 L620.10,97.83 L620.50,98.27 L620.90,98.77 L621.30,99.30 L621.70,99.88 L622.10,100.48 L622.50,101.12 L622.90,101.78 L623.30,102.46 L623.70,103.15 L624.10,103.86 L624.50,104.56 L624.90,105.27 L625.30,105.97 L625.70,106.67 L626.10,107.35 L626.50,108.02 L626.90,108.67 L627.30,109.30 L627.70,109.90 L628.10,110.48 L628.50,111.04 L628.90,111.56 L629.30,112.06 L629.70,112.53 L630.10,112.98 L630.50,113.39 L630.90,113.77 L631.30,114.13 L631.70,114.46 L632.10,114.76 L632.50,115.04 L632.90,115.29 L633.30,115.52 L633.70,115.73 L634.10,115.92 L634.50,116.09 L634.90,116.24 L635.30,116.38 L635.70,116.50 L636.10,116.61 L636.50,116.70 L636.90,116.78 L637.30,116.86 L637.70,116.92 L638.10,116.98 L638.50,117.02 L638.90,117.07 L639.30,117.10 L639.70,117.13 L640.10,117.16 L640.50,117.18 L640.90,117.20 L641.30,117.22 L641.70,117.23 L642.10,117.24 Z" fill="#c4f6f6" stroke="none"/>
<line x1="548.50" y1="117.30" x2="678.70" y2="117.30" stroke="#f0a35c" stroke-width="1.45" />
<path d="M596.90,117.12 L597.30,117.09 L597.70,117.04 L598.10,116.99 L598.50,116.94 L598.90,116.87 L599.30,116.79 L599.70,116.70 L600.10,116.60 L600.50,116.48 L600.90,116.34 L601.30,116.19 L601.70,116.01 L602.10,115.82 L602.50,115.60 L602.90,115.36 L603.30,115.09 L603.70,114.79 L604.10,114.46 L604.50,114.10 L604.90,113.70 L605.30,113.28 L605.70,112.82 L606.10,112.32 L606.50,111.79 L606.90,111.23 L607.30,110.64 L607.70,110.01 L608.10,109.35 L608.50,108.67 L608.90,107.96 L609.30,107.23 L609.70,106.48 L610.10,105.72 L610.50,104.95 L610.90,104.18 L611.30,103.41 L611.70,102.65 L612.10,101.90 L612.50,101.18 L612.90,100.48 L613.30,99.82 L613.70,99.20 L614.10,98.63 L614.50,98.11 L614.90,97.64 L615.30,97.24 L615.70,96.91 L616.10,96.64 L616.50,96.45 L616.90,96.34 L617.30,96.30 L617.70,96.33 L618.10,96.43 L618.50,96.59 L618.90,96.81 L619.30,97.09 L619.70,97.43 L620.10,97.83 L620.50,98.27 L620.90,98.77 L621.30,99.30 L621.70,99.88 L622.10,100.48 L622.50,101.12 L622.90,101.78 L623.30,102.46 L623.70,103.15 L624.10,103.86 L624.50,104.56 L624.90,105.27 L625.30,105.97 L625.70,106.67 L626.10,107.35 L626.50,108.02 L626.90,108.67 L627.30,109.30 L627.70,109.90 L628.10,110.48 L628.50,111.04 L628.90,111.56 L629.30,112.06 L629.70,112.53 L630.10,112.98 L630.50,113.39 L630.90,113.77 L631.30,114.13 L631.70,114.46 L632.10,114.76 L632.50,115.04 L632.90,115.29 L633.30,115.52 L633.70,115.73 L634.10,115.92 L634.50,116.09 L634.90,116.24 L635.30,116.38 L635.70,116.50 L636.10,116.61 L636.50,116.70 L636.90,116.78 L637.30,116.86 L637.70,116.92 L638.10,116.98 L638.50,117.02 L638.90,117.07 L639.30,117.10 L639.70,117.13" fill="none" stroke="#1f8a7a" stroke-width="1.0" stroke-linejoin="round" />
<path d="M580.50,116.51 L580.90,116.42 L581.30,116.31 L581.70,116.20 L582.10,116.07 L582.50,115.94 L582.90,115.79 L583.30,115.64 L583.70,115.47 L584.10,115.30 L584.50,115.11 L584.90,114.91 L585.30,114.70 L585.70,114.48 L586.10,114.25 L586.50,114.01 L586.90,113.76 L587.30,113.51 L587.70,113.25 L588.10,112.98 L588.50,112.71 L588.90,112.43 L589.30,112.15 L589.70,111.87 L590.10,111.59 L590.50,111.32 L590.90,111.05 L591.30,110.78 L591.70,110.53 L592.10,110.28 L592.50,110.04 L592.90,109.82 L593.30,109.61 L593.70,109.41 L594.10,109.24 L594.50,109.08 L594.90,108.93 L595.30,108.81 L595.70,108.71 L596.10,108.63 L596.50,108.57 L596.90,108.52 L597.30,108.50 L597.70,108.49 L598.10,108.50 L598.50,108.53 L598.90,108.57 L599.30,108.62 L599.70,108.68 L600.10,108.74 L600.50,108.81 L600.90,108.88 L601.30,108.95 L601.70,109.01 L602.10,109.06 L602.50,109.09 L602.90,109.11 L603.30,109.11 L603.70,109.08 L604.10,109.03 L604.50,108.95 L604.90,108.83 L605.30,108.68 L605.70,108.49 L606.10,108.26 L606.50,107.99 L606.90,107.68 L607.30,107.32 L607.70,106.93 L608.10,106.49 L608.50,106.01 L608.90,105.50 L609.30,104.94 L609.70,104.36 L610.10,103.75 L610.50,103.11 L610.90,102.44 L611.30,101.76 L611.70,101.07 L612.10,100.37 L612.50,99.66 L612.90,98.95 L613.30,98.24 L613.70,97.54 L614.10,96.85 L614.50,96.17 L614.90,95.49 L615.30,94.84 L615.70,94.19 L616.10,93.55 L616.50,92.92 L616.90,92.29 L617.30,91.65 L617.70,91.00 L618.10,90.33 L618.50,89.62 L618.90,88.86 L619.30,88.05 L619.70,87.17 L620.10,86.23 L620.50,85.20 L620.90,84.09 L621.30,82.87 L621.70,81.55 L622.10,80.12 L622.50,78.57 L622.90,76.89 L623.30,75.09 L623.70,73.16 L624.10,71.11 L624.50,68.93 L624.90,66.64 L625.30,64.25 L625.70,61.76 L626.10,59.19 L626.50,56.56 L626.90,53.90 L627.30,51.21 L627.70,48.54 L628.10,45.90 L628.50,43.33 L628.90,40.86 L629.30,38.53 L629.70,36.36 L630.10,34.38 L630.50,32.64 L630.90,31.15 L631.30,29.95 L631.70,29.05 L632.10,28.47 L632.50,28.23 L632.90,28.33 L633.30,28.78 L633.70,29.58 L634.10,30.71 L634.50,32.17 L634.90,33.94 L635.30,36.00 L635.70,38.33 L636.10,40.89 L636.50,43.67 L636.90,46.63 L637.30,49.74 L637.70,52.97 L638.10,56.30 L638.50,59.67 L638.90,63.08 L639.30,66.49 L639.70,69.88 L640.10,73.22 L640.50,76.48 L640.90,79.66 L641.30,82.73 L641.70,85.68 L642.10,88.49 L642.50,91.16 L642.90,93.68 L643.30,96.04 L643.70,98.25 L644.10,100.30 L644.50,102.19 L644.90,103.92 L645.30,105.51 L645.70,106.95 L646.10,108.25 L646.50,109.42 L646.90,110.47 L647.30,111.40 L647.70,112.23 L648.10,112.95 L648.50,113.59 L648.90,114.15 L649.30,114.64 L649.70,115.06 L650.10,115.42 L650.50,115.73 L650.90,115.99 L651.30,116.22 L651.70,116.41 L652.10,116.57" fill="none" stroke="#e23a3a" stroke-width="1.1" stroke-linejoin="round" />
<path d="M577.70,116.98 L578.10,116.93 L578.50,116.88 L578.90,116.82 L579.30,116.75 L579.70,116.68 L580.10,116.60 L580.50,116.51 L580.90,116.42 L581.30,116.31 L581.70,116.20 L582.10,116.07 L582.50,115.94 L582.90,115.79 L583.30,115.64 L583.70,115.47 L584.10,115.30 L584.50,115.11 L584.90,114.91 L585.30,114.70 L585.70,114.48 L586.10,114.25 L586.50,114.01 L586.90,113.76 L587.30,113.51 L587.70,113.25 L588.10,112.98 L588.50,112.71 L588.90,112.43 L589.30,112.15 L589.70,111.88 L590.10,111.60 L590.50,111.32 L590.90,111.06 L591.30,110.79 L591.70,110.54 L592.10,110.29 L592.50,110.06 L592.90,109.84 L593.30,109.64 L593.70,109.45 L594.10,109.28 L594.50,109.13 L594.90,109.00 L595.30,108.89 L595.70,108.81 L596.10,108.75 L596.50,108.71 L596.90,108.70 L597.30,108.71 L597.70,108.75 L598.10,108.81 L598.50,108.89 L598.90,109.00 L599.30,109.13 L599.70,109.28 L600.10,109.45 L600.50,109.64 L600.90,109.84 L601.30,110.06 L601.70,110.29 L602.10,110.54 L602.50,110.79 L602.90,111.06 L603.30,111.32 L603.70,111.60 L604.10,111.88 L604.50,112.15 L604.90,112.43 L605.30,112.71 L605.70,112.98 L606.10,113.25 L606.50,113.51 L606.90,113.76 L607.30,114.01 L607.70,114.25 L608.10,114.48 L608.50,114.70 L608.90,114.91 L609.30,115.11 L609.70,115.30 L610.10,115.47 L610.50,115.64 L610.90,115.79 L611.30,115.94 L611.70,116.07 L612.10,116.20 L612.50,116.31 L612.90,116.42 L613.30,116.51 L613.70,116.60 L614.10,116.68 L614.50,116.75 L614.90,116.82 L615.30,116.88 L615.70,116.93 L616.10,116.98" fill="none" stroke="#e89a50" stroke-width="1.15" stroke-linejoin="round" />
<path d="M622.10,99.32 L622.50,97.21 L622.90,94.93 L623.30,92.51 L623.70,89.93 L624.10,87.21 L624.50,84.36 L624.90,81.39 L625.30,78.31 L625.70,75.15 L626.10,71.92 L626.50,68.64 L626.90,65.34 L627.30,62.06 L627.70,58.80 L628.10,55.61 L628.50,52.52 L628.90,49.56 L629.30,46.75 L629.70,44.13 L630.10,41.74 L630.50,39.58 L630.90,37.70 L631.30,36.11 L631.70,34.83 L632.10,33.88 L632.50,33.27 L632.90,33.01 L633.30,33.10 L633.70,33.54 L634.10,34.32 L634.50,35.43 L634.90,36.87 L635.30,38.61 L635.70,40.63 L636.10,42.91 L636.50,45.42 L636.90,48.13 L637.30,51.02 L637.70,54.05 L638.10,57.20 L638.50,60.42 L638.90,63.70 L639.30,66.99 L639.70,70.28 L640.10,73.54 L640.50,76.74 L640.90,79.87 L641.30,82.89 L641.70,85.80 L642.10,88.59 L642.50,91.24 L642.90,93.74 L643.30,96.09 L643.70,98.29 L644.10,100.32 L644.50,102.21 L644.90,103.94 L645.30,105.52 L645.70,106.96 L646.10,108.26 L646.50,109.42 L646.90,110.47 L647.30,111.40 L647.70,112.23 L648.10,112.96 L648.50,113.60 L648.90,114.15 L649.30,114.64 L649.70,115.06 L650.10,115.42 L650.50,115.73 L650.90,115.99 L651.30,116.22 L651.70,116.41 L652.10,116.57 L652.50,116.70 L652.90,116.81 L653.30,116.90 L653.70,116.98" fill="none" stroke="#3a22c8" stroke-width="1.0" stroke-linejoin="round" />
<text x="611.9" y="17.7" font-size="7.1" fill="#1e8e8a" stroke="#1e8e8a" stroke-width="0.08">Graphitic sp<tspan font-size="4.8" dy="-2.8">2</tspan></text>
<text x="632.20" y="26.10" font-size="7.1" fill="#1e8e8a" stroke="#1e8e8a" stroke-width="0.2" text-anchor="middle" font-weight="normal" >284.9 eV</text>
<text x="561.70" y="84.10" font-size="7.2" fill="#1e8e8a" stroke="#1e8e8a" stroke-width="0.2" text-anchor="start" font-weight="normal" >C–O–C &amp; C –OH</text>
<text x="573.70" y="103.10" font-size="7.1" fill="#1e8e8a" stroke="#1e8e8a" stroke-width="0.2" text-anchor="start" font-weight="normal" >Carbonyls</text>
<text x="552.60" y="113.00" font-size="7.1" fill="#3a66d0" stroke="#3a66d0" stroke-width="0.2" text-anchor="start" font-weight="normal" >ba-GO</text>
<text x="62.80" y="181.40" font-size="14.5" fill="#111" text-anchor="start" font-weight="bold" >e</text>
<rect x="256.30" y="201.60" width="45.70" height="198.20" fill="#d3f7fa" />
<rect x="126.10" y="200.90" width="7.80" height="198.90" fill="#1cec1c" />
<rect x="158.10" y="190.50" width="6.80" height="209.30" fill="#f6f50e" />
<line x1="80.50" y1="242.40" x2="312.50" y2="242.40" stroke="#a8a8a8" stroke-width="0.9" />
<line x1="80.50" y1="321.80" x2="312.50" y2="321.80" stroke="#a8a8a8" stroke-width="0.9" />
<line x1="80.50" y1="393.20" x2="312.50" y2="393.20" stroke="#a8a8a8" stroke-width="0.9" />
<line x1="150.40" y1="207.00" x2="150.40" y2="399.80" stroke="#777" stroke-width="0.8" stroke-dasharray="1.2,1.2"/>
<line x1="170.20" y1="222.90" x2="170.20" y2="399.80" stroke="#777" stroke-width="0.8" stroke-dasharray="1.2,1.2"/>
<rect x="80.5" y="184.6" width="232.0" height="215.20000000000002" fill="none" stroke="#555555" stroke-width="1"/>
<line x1="80.50" y1="258.50" x2="312.50" y2="258.50" stroke="#444" stroke-width="1.0" />
<line x1="80.50" y1="331.50" x2="312.50" y2="331.50" stroke="#444" stroke-width="1.0" />
<line x1="91.40" y1="181.80" x2="91.40" y2="184.60" stroke="#555555" stroke-width="0.9" />
<line x1="91.40" y1="399.80" x2="91.40" y2="402.60" stroke="#555555" stroke-width="0.9" />
<line x1="91.40" y1="258.50" x2="91.40" y2="260.74" stroke="#555555" stroke-width="0.9" />
<line x1="91.40" y1="331.50" x2="91.40" y2="333.74" stroke="#555555" stroke-width="0.9" />
<text x="92.00" y="412.60" font-size="8.2" fill="#2a2a2a" stroke="#2a2a2a" stroke-width="0.2" text-anchor="middle" font-weight="normal" >800</text>
<line x1="106.45" y1="183.00" x2="106.45" y2="184.60" stroke="#555555" stroke-width="0.9" />
<line x1="106.45" y1="399.80" x2="106.45" y2="401.40" stroke="#555555" stroke-width="0.9" />
<line x1="106.45" y1="258.50" x2="106.45" y2="259.78" stroke="#555555" stroke-width="0.9" />
<line x1="106.45" y1="331.50" x2="106.45" y2="332.78" stroke="#555555" stroke-width="0.9" />
<line x1="121.50" y1="181.80" x2="121.50" y2="184.60" stroke="#555555" stroke-width="0.9" />
<line x1="121.50" y1="399.80" x2="121.50" y2="402.60" stroke="#555555" stroke-width="0.9" />
<line x1="121.50" y1="258.50" x2="121.50" y2="260.74" stroke="#555555" stroke-width="0.9" />
<line x1="121.50" y1="331.50" x2="121.50" y2="333.74" stroke="#555555" stroke-width="0.9" />
<text x="122.10" y="412.60" font-size="8.2" fill="#2a2a2a" stroke="#2a2a2a" stroke-width="0.2" text-anchor="middle" font-weight="normal" >1,200</text>
<line x1="136.55" y1="183.00" x2="136.55" y2="184.60" stroke="#555555" stroke-width="0.9" />
<line x1="136.55" y1="399.80" x2="136.55" y2="401.40" stroke="#555555" stroke-width="0.9" />
<line x1="136.55" y1="258.50" x2="136.55" y2="259.78" stroke="#555555" stroke-width="0.9" />
<line x1="136.55" y1="331.50" x2="136.55" y2="332.78" stroke="#555555" stroke-width="0.9" />
<line x1="151.60" y1="181.80" x2="151.60" y2="184.60" stroke="#555555" stroke-width="0.9" />
<line x1="151.60" y1="399.80" x2="151.60" y2="402.60" stroke="#555555" stroke-width="0.9" />
<line x1="151.60" y1="258.50" x2="151.60" y2="260.74" stroke="#555555" stroke-width="0.9" />
<line x1="151.60" y1="331.50" x2="151.60" y2="333.74" stroke="#555555" stroke-width="0.9" />
<text x="152.20" y="412.60" font-size="8.2" fill="#2a2a2a" stroke="#2a2a2a" stroke-width="0.2" text-anchor="middle" font-weight="normal" >1,600</text>
<line x1="166.65" y1="183.00" x2="166.65" y2="184.60" stroke="#555555" stroke-width="0.9" />
<line x1="166.65" y1="399.80" x2="166.65" y2="401.40" stroke="#555555" stroke-width="0.9" />
<line x1="166.65" y1="258.50" x2="166.65" y2="259.78" stroke="#555555" stroke-width="0.9" />
<line x1="166.65" y1="331.50" x2="166.65" y2="332.78" stroke="#555555" stroke-width="0.9" />
<line x1="181.70" y1="181.80" x2="181.70" y2="184.60" stroke="#555555" stroke-width="0.9" />
<line x1="181.70" y1="399.80" x2="181.70" y2="402.60" stroke="#555555" stroke-width="0.9" />
<line x1="181.70" y1="258.50" x2="181.70" y2="260.74" stroke="#555555" stroke-width="0.9" />
<line x1="181.70" y1="331.50" x2="181.70" y2="333.74" stroke="#555555" stroke-width="0.9" />
<text x="182.30" y="412.60" font-size="8.2" fill="#2a2a2a" stroke="#2a2a2a" stroke-width="0.2" text-anchor="middle" font-weight="normal" >2,000</text>
<line x1="196.75" y1="183.00" x2="196.75" y2="184.60" stroke="#555555" stroke-width="0.9" />
<line x1="196.75" y1="399.80" x2="196.75" y2="401.40" stroke="#555555" stroke-width="0.9" />
<line x1="196.75" y1="258.50" x2="196.75" y2="259.78" stroke="#555555" stroke-width="0.9" />
<line x1="196.75" y1="331.50" x2="196.75" y2="332.78" stroke="#555555" stroke-width="0.9" />
<line x1="211.80" y1="181.80" x2="211.80" y2="184.60" stroke="#555555" stroke-width="0.9" />
<line x1="211.80" y1="399.80" x2="211.80" y2="402.60" stroke="#555555" stroke-width="0.9" />
<line x1="211.80" y1="258.50" x2="211.80" y2="260.74" stroke="#555555" stroke-width="0.9" />
<line x1="211.80" y1="331.50" x2="211.80" y2="333.74" stroke="#555555" stroke-width="0.9" />
<text x="212.40" y="412.60" font-size="8.2" fill="#2a2a2a" stroke="#2a2a2a" stroke-width="0.2" text-anchor="middle" font-weight="normal" >2,400</text>
<line x1="226.85" y1="183.00" x2="226.85" y2="184.60" stroke="#555555" stroke-width="0.9" />
<line x1="226.85" y1="399.80" x2="226.85" y2="401.40" stroke="#555555" stroke-width="0.9" />
<line x1="226.85" y1="258.50" x2="226.85" y2="259.78" stroke="#555555" stroke-width="0.9" />
<line x1="226.85" y1="331.50" x2="226.85" y2="332.78" stroke="#555555" stroke-width="0.9" />
<line x1="241.90" y1="181.80" x2="241.90" y2="184.60" stroke="#555555" stroke-width="0.9" />
<line x1="241.90" y1="399.80" x2="241.90" y2="402.60" stroke="#555555" stroke-width="0.9" />
<line x1="241.90" y1="258.50" x2="241.90" y2="260.74" stroke="#555555" stroke-width="0.9" />
<line x1="241.90" y1="331.50" x2="241.90" y2="333.74" stroke="#555555" stroke-width="0.9" />
<text x="242.50" y="412.60" font-size="8.2" fill="#2a2a2a" stroke="#2a2a2a" stroke-width="0.2" text-anchor="middle" font-weight="normal" >2,800</text>
<line x1="256.95" y1="183.00" x2="256.95" y2="184.60" stroke="#555555" stroke-width="0.9" />
<line x1="256.95" y1="399.80" x2="256.95" y2="401.40" stroke="#555555" stroke-width="0.9" />
<line x1="256.95" y1="258.50" x2="256.95" y2="259.78" stroke="#555555" stroke-width="0.9" />
<line x1="256.95" y1="331.50" x2="256.95" y2="332.78" stroke="#555555" stroke-width="0.9" />
<line x1="272.00" y1="181.80" x2="272.00" y2="184.60" stroke="#555555" stroke-width="0.9" />
<line x1="272.00" y1="399.80" x2="272.00" y2="402.60" stroke="#555555" stroke-width="0.9" />
<line x1="272.00" y1="258.50" x2="272.00" y2="260.74" stroke="#555555" stroke-width="0.9" />
<line x1="272.00" y1="331.50" x2="272.00" y2="333.74" stroke="#555555" stroke-width="0.9" />
<text x="272.60" y="412.60" font-size="8.2" fill="#2a2a2a" stroke="#2a2a2a" stroke-width="0.2" text-anchor="middle" font-weight="normal" >3,200</text>
<line x1="287.05" y1="183.00" x2="287.05" y2="184.60" stroke="#555555" stroke-width="0.9" />
<line x1="287.05" y1="399.80" x2="287.05" y2="401.40" stroke="#555555" stroke-width="0.9" />
<line x1="287.05" y1="258.50" x2="287.05" y2="259.78" stroke="#555555" stroke-width="0.9" />
<line x1="287.05" y1="331.50" x2="287.05" y2="332.78" stroke="#555555" stroke-width="0.9" />
<line x1="302.10" y1="181.80" x2="302.10" y2="184.60" stroke="#555555" stroke-width="0.9" />
<line x1="302.10" y1="399.80" x2="302.10" y2="402.60" stroke="#555555" stroke-width="0.9" />
<line x1="302.10" y1="258.50" x2="302.10" y2="260.74" stroke="#555555" stroke-width="0.9" />
<line x1="302.10" y1="331.50" x2="302.10" y2="333.74" stroke="#555555" stroke-width="0.9" />
<text x="302.70" y="412.60" font-size="8.2" fill="#2a2a2a" stroke="#2a2a2a" stroke-width="0.2" text-anchor="middle" font-weight="normal" >3,600</text>
<line x1="78.70" y1="255.25" x2="80.50" y2="255.25" stroke="#555555" stroke-width="0.9" />
<line x1="312.50" y1="255.25" x2="314.30" y2="255.25" stroke="#555555" stroke-width="0.9" />
<line x1="77.50" y1="242.40" x2="80.50" y2="242.40" stroke="#555555" stroke-width="0.9" />
<line x1="312.50" y1="242.40" x2="315.50" y2="242.40" stroke="#555555" stroke-width="0.9" />
<text x="317.40" y="244.00" font-size="8.4" fill="#2a2a2a" stroke="#2a2a2a" stroke-width="0.2" text-anchor="start" font-weight="normal" >0.0</text>
<line x1="78.70" y1="229.55" x2="80.50" y2="229.55" stroke="#555555" stroke-width="0.9" />
<line x1="312.50" y1="229.55" x2="314.30" y2="229.55" stroke="#555555" stroke-width="0.9" />
<line x1="77.50" y1="216.70" x2="80.50" y2="216.70" stroke="#555555" stroke-width="0.9" />
<line x1="312.50" y1="216.70" x2="315.50" y2="216.70" stroke="#555555" stroke-width="0.9" />
<text x="317.40" y="218.30" font-size="8.4" fill="#2a2a2a" stroke="#2a2a2a" stroke-width="0.2" text-anchor="start" font-weight="normal" >0.1</text>
<line x1="78.70" y1="203.85" x2="80.50" y2="203.85" stroke="#555555" stroke-width="0.9" />
<line x1="312.50" y1="203.85" x2="314.30" y2="203.85" stroke="#555555" stroke-width="0.9" />
<line x1="77.50" y1="191.00" x2="80.50" y2="191.00" stroke="#555555" stroke-width="0.9" />
<line x1="312.50" y1="191.00" x2="315.50" y2="191.00" stroke="#555555" stroke-width="0.9" />
<text x="317.40" y="192.60" font-size="8.4" fill="#2a2a2a" stroke="#2a2a2a" stroke-width="0.2" text-anchor="start" font-weight="normal" >0.2</text>
<line x1="77.50" y1="320.80" x2="80.50" y2="320.80" stroke="#555555" stroke-width="0.9" />
<line x1="312.50" y1="320.80" x2="315.50" y2="320.80" stroke="#555555" stroke-width="0.9" />
<text x="317.40" y="322.40" font-size="8.4" fill="#e02a2a" stroke="#e02a2a" stroke-width="0.2" text-anchor="start" font-weight="normal" >0.0</text>
<line x1="78.70" y1="306.70" x2="80.50" y2="306.70" stroke="#555555" stroke-width="0.9" />
<line x1="312.50" y1="306.70" x2="314.30" y2="306.70" stroke="#555555" stroke-width="0.9" />
<line x1="77.50" y1="292.60" x2="80.50" y2="292.60" stroke="#555555" stroke-width="0.9" />
<line x1="312.50" y1="292.60" x2="315.50" y2="292.60" stroke="#555555" stroke-width="0.9" />
<text x="317.40" y="294.20" font-size="8.4" fill="#e02a2a" stroke="#e02a2a" stroke-width="0.2" text-anchor="start" font-weight="normal" >0.3</text>
<line x1="78.70" y1="278.50" x2="80.50" y2="278.50" stroke="#555555" stroke-width="0.9" />
<line x1="312.50" y1="278.50" x2="314.30" y2="278.50" stroke="#555555" stroke-width="0.9" />
<line x1="77.50" y1="264.40" x2="80.50" y2="264.40" stroke="#555555" stroke-width="0.9" />
<line x1="312.50" y1="264.40" x2="315.50" y2="264.40" stroke="#555555" stroke-width="0.9" />
<text x="317.40" y="266.00" font-size="8.4" fill="#e02a2a" stroke="#e02a2a" stroke-width="0.2" text-anchor="start" font-weight="normal" >0.6</text>
<line x1="77.50" y1="392.60" x2="80.50" y2="392.60" stroke="#555555" stroke-width="0.9" />
<line x1="312.50" y1="392.60" x2="315.50" y2="392.60" stroke="#555555" stroke-width="0.9" />
<text x="317.40" y="394.20" font-size="8.4" fill="#2a2ad0" stroke="#2a2ad0" stroke-width="0.2" text-anchor="start" font-weight="normal" >0.0</text>
<line x1="78.70" y1="379.00" x2="80.50" y2="379.00" stroke="#555555" stroke-width="0.9" />
<line x1="312.50" y1="379.00" x2="314.30" y2="379.00" stroke="#555555" stroke-width="0.9" />
<line x1="77.50" y1="365.40" x2="80.50" y2="365.40" stroke="#555555" stroke-width="0.9" />
<line x1="312.50" y1="365.40" x2="315.50" y2="365.40" stroke="#555555" stroke-width="0.9" />
<text x="317.40" y="367.00" font-size="8.4" fill="#2a2ad0" stroke="#2a2ad0" stroke-width="0.2" text-anchor="start" font-weight="normal" >0.1</text>
<line x1="78.70" y1="351.80" x2="80.50" y2="351.80" stroke="#555555" stroke-width="0.9" />
<line x1="312.50" y1="351.80" x2="314.30" y2="351.80" stroke="#555555" stroke-width="0.9" />
<line x1="77.50" y1="338.20" x2="80.50" y2="338.20" stroke="#555555" stroke-width="0.9" />
<line x1="312.50" y1="338.20" x2="315.50" y2="338.20" stroke="#555555" stroke-width="0.9" />
<text x="317.40" y="339.80" font-size="8.4" fill="#2a2ad0" stroke="#2a2ad0" stroke-width="0.2" text-anchor="start" font-weight="normal" >0.2</text>
<path d="M80.50,242.50 C80.92,242.42 82.15,242.03 83.00,242.00 C83.85,241.97 84.77,242.40 85.60,242.30 C86.43,242.20 87.27,241.38 88.00,241.40 C88.73,241.42 88.92,242.33 90.00,242.40 C91.08,242.47 93.00,241.78 94.50,241.80 C96.00,241.82 98.00,242.80 99.00,242.50 C100.00,242.20 99.95,241.42 100.50,240.00 C101.05,238.58 101.55,235.83 102.30,234.00 C103.05,232.17 104.13,230.67 105.00,229.00 C105.87,227.33 106.83,225.83 107.50,224.00 C108.17,222.17 108.57,219.73 109.00,218.00 C109.43,216.27 109.72,214.77 110.10,213.60 C110.48,212.43 110.92,211.57 111.30,211.00 C111.68,210.43 112.03,209.95 112.40,210.20 C112.77,210.45 113.13,211.50 113.50,212.50 C113.87,213.50 114.23,216.03 114.60,216.20 C114.97,216.37 115.33,214.13 115.70,213.50 C116.07,212.87 116.42,212.23 116.80,212.40 C117.18,212.57 117.63,213.68 118.00,214.50 C118.37,215.32 118.58,217.05 119.00,217.30 C119.42,217.55 119.93,216.37 120.50,216.00 C121.07,215.63 121.82,215.07 122.40,215.10 C122.98,215.13 123.45,216.08 124.00,216.20 C124.55,216.32 125.03,216.50 125.70,215.80 C126.37,215.10 127.28,213.30 128.00,212.00 C128.72,210.70 129.30,209.17 130.00,208.00 C130.70,206.83 131.50,205.93 132.20,205.00 C132.90,204.07 133.57,202.65 134.20,202.40 C134.83,202.15 135.37,202.32 136.00,203.50 C136.63,204.68 137.38,207.08 138.00,209.50 C138.62,211.92 139.15,215.02 139.70,218.00 C140.25,220.98 140.67,224.23 141.30,227.40 C141.93,230.57 142.75,234.48 143.50,237.00 C144.25,239.52 145.13,242.33 145.80,242.50 C146.47,242.67 146.95,239.22 147.50,238.00 C148.05,236.78 148.47,236.30 149.10,235.20 C149.73,234.10 150.65,231.68 151.30,231.40 C151.95,231.12 152.43,232.77 153.00,233.50 C153.57,234.23 154.12,236.38 154.70,235.80 C155.28,235.22 155.98,232.30 156.50,230.00 C157.02,227.70 157.37,225.03 157.80,222.00 C158.23,218.97 158.65,214.97 159.10,211.80 C159.55,208.63 160.07,205.63 160.50,203.00 C160.93,200.37 161.25,197.97 161.70,196.00 C162.15,194.03 162.73,191.70 163.20,191.20 C163.67,190.70 164.08,191.53 164.50,193.00 C164.92,194.47 165.30,197.50 165.70,200.00 C166.10,202.50 166.43,204.33 166.90,208.00 C167.37,211.67 167.98,217.78 168.50,222.00 C169.02,226.22 169.50,230.30 170.00,233.30 C170.50,236.30 170.97,238.45 171.50,240.00 C172.03,241.55 171.78,242.13 173.20,242.60 C174.62,243.07 175.53,242.80 180.00,242.80 C184.47,242.80 191.67,242.65 200.00,242.60 C208.33,242.55 222.50,242.57 230.00,242.50 C237.50,242.43 241.45,242.33 245.00,242.20 C248.55,242.07 249.38,241.63 251.30,241.70 C253.22,241.77 255.05,242.97 256.50,242.60 C257.95,242.23 258.77,240.70 260.00,239.50 C261.23,238.30 261.97,237.48 263.90,235.40 C265.83,233.32 269.42,229.57 271.60,227.00 C273.78,224.43 275.23,222.47 277.00,220.00 C278.77,217.53 280.62,214.37 282.20,212.20 C283.78,210.03 285.17,208.43 286.50,207.00 C287.83,205.57 289.32,204.20 290.20,203.60 C291.08,203.00 291.23,203.25 291.80,203.40 C292.37,203.55 292.98,203.57 293.60,204.50 C294.22,205.43 294.93,207.02 295.50,209.00 C296.07,210.98 296.50,213.57 297.00,216.40 C297.50,219.23 297.98,222.48 298.50,226.00 C299.02,229.52 299.48,234.82 300.10,237.50 C300.72,240.18 301.55,241.28 302.20,242.10 C302.85,242.92 302.25,242.35 304.00,242.40 C305.75,242.45 311.25,242.40 312.70,242.40" fill="none" stroke="#111" stroke-width="1.15" stroke-linejoin="round" stroke-linecap="round" />
<path d="M80.50,321.20 C81.25,321.13 83.58,321.00 85.00,320.80 C86.42,320.60 87.67,319.97 89.00,320.00 C90.33,320.03 91.43,320.77 93.00,321.00 C94.57,321.23 96.73,321.57 98.40,321.40 C100.07,321.23 101.43,320.68 103.00,320.00 C104.57,319.32 106.30,318.22 107.80,317.30 C109.30,316.38 110.48,315.70 112.00,314.50 C113.52,313.30 115.73,311.10 116.90,310.10 C118.07,309.10 118.30,309.20 119.00,308.50 C119.70,307.80 120.35,307.48 121.10,305.90 C121.85,304.32 122.80,300.77 123.50,299.00 C124.20,297.23 124.47,296.15 125.30,295.30 C126.13,294.45 127.45,294.42 128.50,293.90 C129.55,293.38 130.80,292.72 131.60,292.20 C132.40,291.68 132.77,291.08 133.30,290.80 C133.83,290.52 134.27,290.47 134.80,290.50 C135.33,290.53 135.97,290.72 136.50,291.00 C137.03,291.28 137.48,291.28 138.00,292.20 C138.52,293.12 139.08,295.17 139.60,296.50 C140.12,297.83 140.50,299.68 141.10,300.20 C141.70,300.72 142.55,300.47 143.20,299.60 C143.85,298.73 144.47,296.58 145.00,295.00 C145.53,293.42 145.93,292.43 146.40,290.10 C146.87,287.77 147.38,284.17 147.80,281.00 C148.22,277.83 148.53,273.93 148.90,271.10 C149.27,268.27 149.62,265.77 150.00,264.00 C150.38,262.23 150.83,260.92 151.20,260.50 C151.57,260.08 151.85,260.25 152.20,261.50 C152.55,262.75 152.95,264.92 153.30,268.00 C153.65,271.08 153.97,275.97 154.30,280.00 C154.63,284.03 154.93,288.87 155.30,292.20 C155.67,295.53 156.05,297.90 156.50,300.00 C156.95,302.10 157.22,303.30 158.00,304.80 C158.78,306.30 160.37,307.63 161.20,309.00 C162.03,310.37 162.45,311.42 163.00,313.00 C163.55,314.58 164.10,317.17 164.50,318.50 C164.90,319.83 164.82,320.52 165.40,321.00 C165.98,321.48 152.90,321.35 168.00,321.40 C183.10,321.45 239.83,321.45 256.00,321.30 C272.17,321.15 262.32,320.80 265.00,320.50 C267.68,320.20 269.93,319.82 272.10,319.50 C274.27,319.18 275.88,318.80 278.00,318.60 C280.12,318.40 282.47,318.20 284.80,318.30 C287.13,318.40 289.20,318.78 292.00,319.20 C294.80,319.62 298.15,320.47 301.60,320.80 C305.05,321.13 310.85,321.13 312.70,321.20" fill="none" stroke="#e02a2a" stroke-width="1.15" stroke-linejoin="round" stroke-linecap="round" />
<path d="M80.50,392.70 C81.08,392.42 82.82,391.42 84.00,391.00 C85.18,390.58 86.17,390.13 87.60,390.20 C89.03,390.27 91.37,391.10 92.60,391.40 C93.83,391.70 94.17,391.83 95.00,392.00 C95.83,392.17 96.67,392.63 97.60,392.40 C98.53,392.17 99.40,391.17 100.60,390.60 C101.80,390.03 103.52,389.73 104.80,389.00 C106.08,388.27 107.25,387.03 108.30,386.20 C109.35,385.37 110.28,385.28 111.10,384.00 C111.92,382.72 112.62,379.70 113.20,378.50 C113.78,377.30 114.13,377.97 114.60,376.80 C115.07,375.63 115.52,373.72 116.00,371.50 C116.48,369.28 116.95,365.28 117.50,363.50 C118.05,361.72 118.72,362.05 119.30,360.80 C119.88,359.55 120.48,357.97 121.00,356.00 C121.52,354.03 121.97,351.08 122.40,349.00 C122.83,346.92 123.22,344.77 123.60,343.50 C123.98,342.23 124.32,341.57 124.70,341.40 C125.08,341.23 125.35,341.23 125.90,342.50 C126.45,343.77 127.07,345.58 128.00,349.00 C128.93,352.42 130.52,359.40 131.50,363.00 C132.48,366.60 132.98,367.77 133.90,370.60 C134.82,373.43 135.95,377.15 137.00,380.00 C138.05,382.85 139.37,385.78 140.20,387.70 C141.03,389.62 141.40,390.65 142.00,391.50 C142.60,392.35 143.27,393.22 143.80,392.80 C144.33,392.38 144.75,391.13 145.20,389.00 C145.65,386.87 146.08,383.15 146.50,380.00 C146.92,376.85 147.20,374.27 147.70,370.10 C148.20,365.93 149.00,358.25 149.50,355.00 C150.00,351.75 150.28,350.60 150.70,350.60 C151.12,350.60 151.62,353.10 152.00,355.00 C152.38,356.90 152.67,359.48 153.00,362.00 C153.33,364.52 153.67,367.10 154.00,370.10 C154.33,373.10 154.68,377.27 155.00,380.00 C155.32,382.73 155.57,385.33 155.90,386.50 C156.23,387.67 156.65,387.50 157.00,387.00 C157.35,386.50 157.67,385.07 158.00,383.50 C158.33,381.93 158.50,381.52 159.00,377.60 C159.50,373.68 160.45,364.43 161.00,360.00 C161.55,355.57 161.95,352.85 162.30,351.00 C162.65,349.15 162.82,348.90 163.10,348.90 C163.38,348.90 163.68,349.15 164.00,351.00 C164.32,352.85 164.58,356.00 165.00,360.00 C165.42,364.00 166.08,370.33 166.50,375.00 C166.92,379.67 167.08,385.08 167.50,388.00 C167.92,390.92 168.25,391.65 169.00,392.50 C169.75,393.35 157.50,393.00 172.00,393.10 C186.50,393.20 241.33,393.28 256.00,393.10 C270.67,392.92 258.67,392.43 260.00,392.00 C261.33,391.57 262.00,391.20 264.00,390.50 C266.00,389.80 269.33,388.53 272.00,387.80 C274.67,387.07 277.83,386.35 280.00,386.10 C282.17,385.85 283.00,385.90 285.00,386.30 C287.00,386.70 290.00,387.72 292.00,388.50 C294.00,389.28 295.67,390.33 297.00,391.00 C298.33,391.67 298.67,392.15 300.00,392.50 C301.33,392.85 302.88,393.00 305.00,393.10 C307.12,393.20 311.42,393.10 312.70,393.10" fill="none" stroke="#2222c0" stroke-width="1.15" stroke-linejoin="round" stroke-linecap="round" />
<line x1="163.40" y1="191.20" x2="176.30" y2="191.20" stroke="#111" stroke-width="0.8" />
<path d="M180.30,191.20 L176.30,192.80 L176.30,189.60 Z" fill="#111"/>
<line x1="150.40" y1="207.00" x2="178.00" y2="207.00" stroke="#111" stroke-width="0.8" />
<path d="M182.00,207.00 L178.00,208.60 L178.00,205.40 Z" fill="#111"/>
<line x1="170.20" y1="222.90" x2="178.30" y2="222.90" stroke="#111" stroke-width="0.8" />
<path d="M182.30,222.90 L178.30,224.50 L178.30,221.30 Z" fill="#111"/>
<text x="186.60" y="194.80" font-size="8.5" fill="#111" stroke="#111" stroke-width="0.2" text-anchor="start"><tspan dy="0.00">υCOOH, υC=O</tspan></text>
<text x="186.80" y="210.70" font-size="8.5" fill="#111" stroke="#111" stroke-width="0.2" text-anchor="start"><tspan dy="0.00">υsp</tspan><tspan font-size="5.78" dy="-3.83">2</tspan><tspan dy="3.83">-C, υCOO</tspan><tspan font-size="5.78" dy="-3.83">−</tspan></text>
<text x="186.80" y="225.40" font-size="8.5" fill="#111" stroke="#111" stroke-width="0.2" text-anchor="start"><tspan dy="0.00">υC=O</tspan></text>
<text x="310.30" y="253.40" font-size="8.5" fill="#111" stroke="#111" stroke-width="0.2" text-anchor="end"><tspan dy="0.00">υCOOH, υH</tspan><tspan font-size="5.78" dy="2.04">2</tspan><tspan dy="-2.04">O, υC-OH</tspan></text>
<line x1="260.00" y1="201.20" x2="301.50" y2="201.20" stroke="#111" stroke-width="0.8" />
<path d="M256.4,201.2 L260.6,199.6 L260.6,202.8 Z" fill="#111"/>
<path d="M305.0,201.2 L300.8,199.6 L300.8,202.8 Z" fill="#111"/>
<text x="84.40" y="233.40" font-size="8.5" fill="#222" stroke="#222" stroke-width="0.2" text-anchor="start" font-weight="normal" >GO</text>
<text x="84.40" y="274.70" font-size="8.5" fill="#222" stroke="#222" stroke-width="0.2" text-anchor="start" font-weight="normal" >Epoxide</text>
<text x="84.40" y="285.30" font-size="8.5" fill="#222" stroke="#222" stroke-width="0.2" text-anchor="start" font-weight="normal" >loss</text>
<line x1="120.00" y1="279.50" x2="128.69" y2="289.84" stroke="#111" stroke-width="0.8" />
<path d="M131.00,292.60 L127.54,290.81 L129.83,288.88 Z" fill="#111"/>
<text x="84.40" y="311.20" font-size="8.5" fill="#e02a2a" stroke="#e02a2a" stroke-width="0.2" text-anchor="start" font-weight="normal" >bGO</text>
<text x="183.30" y="278.40" font-size="8.5" fill="#222" stroke="#222" stroke-width="0.2" text-anchor="start" font-weight="normal" >Carboxyl</text>
<text x="183.30" y="288.40" font-size="8.5" fill="#222" stroke="#222" stroke-width="0.2" text-anchor="start" font-weight="normal" >loss</text>
<line x1="179.70" y1="279.50" x2="163.88" y2="303.49" stroke="#111" stroke-width="0.8" />
<path d="M161.90,306.50 L162.63,302.67 L165.13,304.32 Z" fill="#111"/>
<text x="84.3" y="353.8" font-size="8.5" fill="#2222c0" stroke="#2222c0" stroke-width="0.2">ba-GO<tspan font-size="5.8" dy="-3">*</tspan></text>
<text x="191.80" y="354.30" font-size="8.5" fill="#222" stroke="#222" stroke-width="0.2" text-anchor="start" font-weight="normal" >Carboxyl</text>
<text x="191.80" y="363.80" font-size="8.5" fill="#222" stroke="#222" stroke-width="0.2" text-anchor="start" font-weight="normal" >recovery</text>
<line x1="188.50" y1="357.00" x2="170.40" y2="357.00" stroke="#111" stroke-width="0.8" />
<path d="M166.40,357.00 L170.40,355.40 L170.40,358.60 Z" fill="#111"/>
<text x="196.60" y="425.40" font-size="8.5" fill="#2a2a2a" stroke="#2a2a2a" stroke-width="0.2" text-anchor="middle"><tspan dy="0.00">Wavenumber (cm</tspan><tspan font-size="5.78" dy="-3.83">−1</tspan><tspan dy="3.83">)</tspan></text>
<text x="0.00" y="0.00" font-size="8.3" fill="#2a2a2a" stroke="#2a2a2a" stroke-width="0.2" text-anchor="middle" font-weight="normal" transform="translate(70.6,293.8) rotate(-90)">Absorbance (a.u.)</text>
<text x="347.60" y="181.40" font-size="14.5" fill="#111" text-anchor="start" font-weight="bold" >f</text>
<rect x="413.40" y="188.20" width="8.40" height="211.90" fill="#1cec1c" />
<rect x="446.40" y="188.20" width="7.20" height="211.90" fill="#f6f50e" />
<line x1="364.00" y1="248.20" x2="599.50" y2="248.20" stroke="#a8a8a8" stroke-width="0.9" />
<line x1="364.00" y1="318.00" x2="599.50" y2="318.00" stroke="#a8a8a8" stroke-width="0.9" />
<line x1="364.00" y1="385.70" x2="599.50" y2="385.70" stroke="#a8a8a8" stroke-width="0.9" />
<line x1="438.50" y1="199.50" x2="438.50" y2="400.10" stroke="#777" stroke-width="0.8" stroke-dasharray="1.2,1.2"/>
<line x1="459.80" y1="217.20" x2="459.80" y2="400.10" stroke="#b0b0b0" stroke-width="0.9" />
<rect x="364.0" y="186.4" width="235.5" height="213.70000000000002" fill="none" stroke="#555555" stroke-width="1"/>
<line x1="364.00" y1="257.80" x2="599.50" y2="257.80" stroke="#444" stroke-width="1.0" />
<line x1="364.00" y1="327.50" x2="599.50" y2="327.50" stroke="#444" stroke-width="1.0" />
<line x1="376.20" y1="183.60" x2="376.20" y2="186.40" stroke="#555555" stroke-width="0.9" />
<line x1="376.20" y1="400.10" x2="376.20" y2="402.90" stroke="#555555" stroke-width="0.9" />
<line x1="376.20" y1="257.80" x2="376.20" y2="260.04" stroke="#555555" stroke-width="0.9" />
<line x1="376.20" y1="327.50" x2="376.20" y2="329.74" stroke="#555555" stroke-width="0.9" />
<text x="376.80" y="412.60" font-size="8.2" fill="#2a2a2a" stroke="#2a2a2a" stroke-width="0.2" text-anchor="middle" font-weight="normal" >800</text>
<line x1="392.00" y1="184.80" x2="392.00" y2="186.40" stroke="#555555" stroke-width="0.9" />
<line x1="392.00" y1="400.10" x2="392.00" y2="401.70" stroke="#555555" stroke-width="0.9" />
<line x1="392.00" y1="257.80" x2="392.00" y2="259.08" stroke="#555555" stroke-width="0.9" />
<line x1="392.00" y1="327.50" x2="392.00" y2="328.78" stroke="#555555" stroke-width="0.9" />
<line x1="407.80" y1="183.60" x2="407.80" y2="186.40" stroke="#555555" stroke-width="0.9" />
<line x1="407.80" y1="400.10" x2="407.80" y2="402.90" stroke="#555555" stroke-width="0.9" />
<line x1="407.80" y1="257.80" x2="407.80" y2="260.04" stroke="#555555" stroke-width="0.9" />
<line x1="407.80" y1="327.50" x2="407.80" y2="329.74" stroke="#555555" stroke-width="0.9" />
<text x="408.40" y="412.60" font-size="8.2" fill="#2a2a2a" stroke="#2a2a2a" stroke-width="0.2" text-anchor="middle" font-weight="normal" >1,200</text>
<line x1="423.60" y1="184.80" x2="423.60" y2="186.40" stroke="#555555" stroke-width="0.9" />
<line x1="423.60" y1="400.10" x2="423.60" y2="401.70" stroke="#555555" stroke-width="0.9" />
<line x1="423.60" y1="257.80" x2="423.60" y2="259.08" stroke="#555555" stroke-width="0.9" />
<line x1="423.60" y1="327.50" x2="423.60" y2="328.78" stroke="#555555" stroke-width="0.9" />
<line x1="439.40" y1="183.60" x2="439.40" y2="186.40" stroke="#555555" stroke-width="0.9" />
<line x1="439.40" y1="400.10" x2="439.40" y2="402.90" stroke="#555555" stroke-width="0.9" />
<line x1="439.40" y1="257.80" x2="439.40" y2="260.04" stroke="#555555" stroke-width="0.9" />
<line x1="439.40" y1="327.50" x2="439.40" y2="329.74" stroke="#555555" stroke-width="0.9" />
<text x="440.00" y="412.60" font-size="8.2" fill="#2a2a2a" stroke="#2a2a2a" stroke-width="0.2" text-anchor="middle" font-weight="normal" >1,600</text>
<line x1="455.20" y1="184.80" x2="455.20" y2="186.40" stroke="#555555" stroke-width="0.9" />
<line x1="455.20" y1="400.10" x2="455.20" y2="401.70" stroke="#555555" stroke-width="0.9" />
<line x1="455.20" y1="257.80" x2="455.20" y2="259.08" stroke="#555555" stroke-width="0.9" />
<line x1="455.20" y1="327.50" x2="455.20" y2="328.78" stroke="#555555" stroke-width="0.9" />
<line x1="471.00" y1="183.60" x2="471.00" y2="186.40" stroke="#555555" stroke-width="0.9" />
<line x1="471.00" y1="400.10" x2="471.00" y2="402.90" stroke="#555555" stroke-width="0.9" />
<line x1="471.00" y1="257.80" x2="471.00" y2="260.04" stroke="#555555" stroke-width="0.9" />
<line x1="471.00" y1="327.50" x2="471.00" y2="329.74" stroke="#555555" stroke-width="0.9" />
<text x="471.60" y="412.60" font-size="8.2" fill="#2a2a2a" stroke="#2a2a2a" stroke-width="0.2" text-anchor="middle" font-weight="normal" >2,000</text>
<line x1="486.80" y1="184.80" x2="486.80" y2="186.40" stroke="#555555" stroke-width="0.9" />
<line x1="486.80" y1="400.10" x2="486.80" y2="401.70" stroke="#555555" stroke-width="0.9" />
<line x1="486.80" y1="257.80" x2="486.80" y2="259.08" stroke="#555555" stroke-width="0.9" />
<line x1="486.80" y1="327.50" x2="486.80" y2="328.78" stroke="#555555" stroke-width="0.9" />
<line x1="502.60" y1="183.60" x2="502.60" y2="186.40" stroke="#555555" stroke-width="0.9" />
<line x1="502.60" y1="400.10" x2="502.60" y2="402.90" stroke="#555555" stroke-width="0.9" />
<line x1="502.60" y1="257.80" x2="502.60" y2="260.04" stroke="#555555" stroke-width="0.9" />
<line x1="502.60" y1="327.50" x2="502.60" y2="329.74" stroke="#555555" stroke-width="0.9" />
<text x="503.20" y="412.60" font-size="8.2" fill="#2a2a2a" stroke="#2a2a2a" stroke-width="0.2" text-anchor="middle" font-weight="normal" >2,400</text>
<line x1="518.40" y1="184.80" x2="518.40" y2="186.40" stroke="#555555" stroke-width="0.9" />
<line x1="518.40" y1="400.10" x2="518.40" y2="401.70" stroke="#555555" stroke-width="0.9" />
<line x1="518.40" y1="257.80" x2="518.40" y2="259.08" stroke="#555555" stroke-width="0.9" />
<line x1="518.40" y1="327.50" x2="518.40" y2="328.78" stroke="#555555" stroke-width="0.9" />
<line x1="534.20" y1="183.60" x2="534.20" y2="186.40" stroke="#555555" stroke-width="0.9" />
<line x1="534.20" y1="400.10" x2="534.20" y2="402.90" stroke="#555555" stroke-width="0.9" />
<line x1="534.20" y1="257.80" x2="534.20" y2="260.04" stroke="#555555" stroke-width="0.9" />
<line x1="534.20" y1="327.50" x2="534.20" y2="329.74" stroke="#555555" stroke-width="0.9" />
<text x="534.80" y="412.60" font-size="8.2" fill="#2a2a2a" stroke="#2a2a2a" stroke-width="0.2" text-anchor="middle" font-weight="normal" >2,800</text>
<line x1="550.00" y1="184.80" x2="550.00" y2="186.40" stroke="#555555" stroke-width="0.9" />
<line x1="550.00" y1="400.10" x2="550.00" y2="401.70" stroke="#555555" stroke-width="0.9" />
<line x1="550.00" y1="257.80" x2="550.00" y2="259.08" stroke="#555555" stroke-width="0.9" />
<line x1="550.00" y1="327.50" x2="550.00" y2="328.78" stroke="#555555" stroke-width="0.9" />
<line x1="565.80" y1="183.60" x2="565.80" y2="186.40" stroke="#555555" stroke-width="0.9" />
<line x1="565.80" y1="400.10" x2="565.80" y2="402.90" stroke="#555555" stroke-width="0.9" />
<line x1="565.80" y1="257.80" x2="565.80" y2="260.04" stroke="#555555" stroke-width="0.9" />
<line x1="565.80" y1="327.50" x2="565.80" y2="329.74" stroke="#555555" stroke-width="0.9" />
<text x="566.40" y="412.60" font-size="8.2" fill="#2a2a2a" stroke="#2a2a2a" stroke-width="0.2" text-anchor="middle" font-weight="normal" >3,200</text>
<line x1="581.60" y1="184.80" x2="581.60" y2="186.40" stroke="#555555" stroke-width="0.9" />
<line x1="581.60" y1="400.10" x2="581.60" y2="401.70" stroke="#555555" stroke-width="0.9" />
<line x1="581.60" y1="257.80" x2="581.60" y2="259.08" stroke="#555555" stroke-width="0.9" />
<line x1="581.60" y1="327.50" x2="581.60" y2="328.78" stroke="#555555" stroke-width="0.9" />
<line x1="597.40" y1="183.60" x2="597.40" y2="186.40" stroke="#555555" stroke-width="0.9" />
<line x1="597.40" y1="400.10" x2="597.40" y2="402.90" stroke="#555555" stroke-width="0.9" />
<line x1="597.40" y1="257.80" x2="597.40" y2="260.04" stroke="#555555" stroke-width="0.9" />
<line x1="597.40" y1="327.50" x2="597.40" y2="329.74" stroke="#555555" stroke-width="0.9" />
<text x="598.00" y="412.60" font-size="8.2" fill="#2a2a2a" stroke="#2a2a2a" stroke-width="0.2" text-anchor="middle" font-weight="normal" >3,600</text>
<line x1="361.00" y1="248.20" x2="364.00" y2="248.20" stroke="#555555" stroke-width="0.9" />
<line x1="599.50" y1="248.20" x2="602.50" y2="248.20" stroke="#555555" stroke-width="0.9" />
<text x="604.40" y="249.80" font-size="8.4" fill="#2e8b2e" stroke="#2e8b2e" stroke-width="0.2" text-anchor="start" font-weight="normal" >0.00</text>
<line x1="362.20" y1="236.05" x2="364.00" y2="236.05" stroke="#555555" stroke-width="0.9" />
<line x1="599.50" y1="236.05" x2="601.30" y2="236.05" stroke="#555555" stroke-width="0.9" />
<line x1="361.00" y1="223.90" x2="364.00" y2="223.90" stroke="#555555" stroke-width="0.9" />
<line x1="599.50" y1="223.90" x2="602.50" y2="223.90" stroke="#555555" stroke-width="0.9" />
<text x="604.40" y="225.50" font-size="8.4" fill="#2e8b2e" stroke="#2e8b2e" stroke-width="0.2" text-anchor="start" font-weight="normal" >0.05</text>
<line x1="362.20" y1="211.75" x2="364.00" y2="211.75" stroke="#555555" stroke-width="0.9" />
<line x1="599.50" y1="211.75" x2="601.30" y2="211.75" stroke="#555555" stroke-width="0.9" />
<line x1="361.00" y1="199.60" x2="364.00" y2="199.60" stroke="#555555" stroke-width="0.9" />
<line x1="599.50" y1="199.60" x2="602.50" y2="199.60" stroke="#555555" stroke-width="0.9" />
<text x="604.40" y="201.20" font-size="8.4" fill="#2e8b2e" stroke="#2e8b2e" stroke-width="0.2" text-anchor="start" font-weight="normal" >0.10</text>
<line x1="362.20" y1="187.45" x2="364.00" y2="187.45" stroke="#555555" stroke-width="0.9" />
<line x1="599.50" y1="187.45" x2="601.30" y2="187.45" stroke="#555555" stroke-width="0.9" />
<line x1="361.00" y1="318.00" x2="364.00" y2="318.00" stroke="#555555" stroke-width="0.9" />
<line x1="599.50" y1="318.00" x2="602.50" y2="318.00" stroke="#555555" stroke-width="0.9" />
<text x="604.40" y="319.60" font-size="8.4" fill="#8a1f8a" stroke="#8a1f8a" stroke-width="0.2" text-anchor="start" font-weight="normal" >0.0</text>
<line x1="362.20" y1="308.90" x2="364.00" y2="308.90" stroke="#555555" stroke-width="0.9" />
<line x1="599.50" y1="308.90" x2="601.30" y2="308.90" stroke="#555555" stroke-width="0.9" />
<line x1="361.00" y1="299.80" x2="364.00" y2="299.80" stroke="#555555" stroke-width="0.9" />
<line x1="599.50" y1="299.80" x2="602.50" y2="299.80" stroke="#555555" stroke-width="0.9" />
<text x="604.40" y="301.40" font-size="8.4" fill="#8a1f8a" stroke="#8a1f8a" stroke-width="0.2" text-anchor="start" font-weight="normal" >0.1</text>
<line x1="362.20" y1="290.70" x2="364.00" y2="290.70" stroke="#555555" stroke-width="0.9" />
<line x1="599.50" y1="290.70" x2="601.30" y2="290.70" stroke="#555555" stroke-width="0.9" />
<line x1="361.00" y1="281.60" x2="364.00" y2="281.60" stroke="#555555" stroke-width="0.9" />
<line x1="599.50" y1="281.60" x2="602.50" y2="281.60" stroke="#555555" stroke-width="0.9" />
<text x="604.40" y="283.20" font-size="8.4" fill="#8a1f8a" stroke="#8a1f8a" stroke-width="0.2" text-anchor="start" font-weight="normal" >0.2</text>
<line x1="362.20" y1="272.50" x2="364.00" y2="272.50" stroke="#555555" stroke-width="0.9" />
<line x1="599.50" y1="272.50" x2="601.30" y2="272.50" stroke="#555555" stroke-width="0.9" />
<line x1="361.00" y1="263.40" x2="364.00" y2="263.40" stroke="#555555" stroke-width="0.9" />
<line x1="599.50" y1="263.40" x2="602.50" y2="263.40" stroke="#555555" stroke-width="0.9" />
<text x="604.40" y="265.00" font-size="8.4" fill="#8a1f8a" stroke="#8a1f8a" stroke-width="0.2" text-anchor="start" font-weight="normal" >0.3</text>
<line x1="362.20" y1="397.30" x2="364.00" y2="397.30" stroke="#555555" stroke-width="0.9" />
<line x1="599.50" y1="397.30" x2="601.30" y2="397.30" stroke="#555555" stroke-width="0.9" />
<line x1="361.00" y1="385.70" x2="364.00" y2="385.70" stroke="#555555" stroke-width="0.9" />
<line x1="599.50" y1="385.70" x2="602.50" y2="385.70" stroke="#555555" stroke-width="0.9" />
<text x="604.40" y="387.30" font-size="8.4" fill="#e0207a" stroke="#e0207a" stroke-width="0.2" text-anchor="start" font-weight="normal" >0.00</text>
<line x1="362.20" y1="374.10" x2="364.00" y2="374.10" stroke="#555555" stroke-width="0.9" />
<line x1="599.50" y1="374.10" x2="601.30" y2="374.10" stroke="#555555" stroke-width="0.9" />
<line x1="361.00" y1="362.50" x2="364.00" y2="362.50" stroke="#555555" stroke-width="0.9" />
<line x1="599.50" y1="362.50" x2="602.50" y2="362.50" stroke="#555555" stroke-width="0.9" />
<text x="604.40" y="364.10" font-size="8.4" fill="#e0207a" stroke="#e0207a" stroke-width="0.2" text-anchor="start" font-weight="normal" >0.08</text>
<line x1="362.20" y1="350.90" x2="364.00" y2="350.90" stroke="#555555" stroke-width="0.9" />
<line x1="599.50" y1="350.90" x2="601.30" y2="350.90" stroke="#555555" stroke-width="0.9" />
<line x1="361.00" y1="339.30" x2="364.00" y2="339.30" stroke="#555555" stroke-width="0.9" />
<line x1="599.50" y1="339.30" x2="602.50" y2="339.30" stroke="#555555" stroke-width="0.9" />
<text x="604.40" y="340.90" font-size="8.4" fill="#e0207a" stroke="#e0207a" stroke-width="0.2" text-anchor="start" font-weight="normal" >0.16</text>
<path d="M364.00,247.80 C365.00,247.82 368.43,247.93 370.00,247.90 C371.57,247.87 372.40,247.58 373.40,247.60 C374.40,247.62 375.23,248.07 376.00,248.00 C376.77,247.93 377.33,247.23 378.00,247.20 C378.67,247.17 378.92,247.77 380.00,247.80 C381.08,247.83 383.37,247.80 384.50,247.40 C385.63,247.00 386.05,245.33 386.80,245.40 C387.55,245.47 386.85,247.40 389.00,247.80 C391.15,248.20 397.73,249.43 399.70,247.80 C401.67,246.17 400.43,241.78 400.80,238.00 C401.17,234.22 401.45,229.10 401.90,225.10 C402.35,221.10 402.87,217.30 403.50,214.00 C404.13,210.70 404.95,207.97 405.70,205.30 C406.45,202.63 407.20,200.07 408.00,198.00 C408.80,195.93 409.77,193.48 410.50,192.90 C411.23,192.32 411.73,193.15 412.40,194.50 C413.07,195.85 413.77,198.50 414.50,201.00 C415.23,203.50 415.97,206.50 416.80,209.50 C417.63,212.50 418.57,215.65 419.50,219.00 C420.43,222.35 421.48,226.43 422.40,229.60 C423.32,232.77 424.23,235.52 425.00,238.00 C425.77,240.48 426.40,243.12 427.00,244.50 C427.60,245.88 428.02,246.18 428.60,246.30 C429.18,246.42 429.85,246.42 430.50,245.20 C431.15,243.98 431.87,241.87 432.50,239.00 C433.13,236.13 433.75,231.83 434.30,228.00 C434.85,224.17 435.27,220.50 435.80,216.00 C436.33,211.50 437.03,204.37 437.50,201.00 C437.97,197.63 438.22,196.13 438.60,195.80 C438.98,195.47 439.35,196.47 439.80,199.00 C440.25,201.53 440.82,205.83 441.30,211.00 C441.78,216.17 442.22,224.42 442.70,230.00 C443.18,235.58 443.77,241.63 444.20,244.50 C444.63,247.37 444.90,247.12 445.30,247.20 C445.70,247.28 446.12,246.87 446.60,245.00 C447.08,243.13 447.68,240.00 448.20,236.00 C448.72,232.00 449.23,225.67 449.70,221.00 C450.17,216.33 450.60,210.73 451.00,208.00 C451.40,205.27 451.70,204.43 452.10,204.60 C452.50,204.77 452.93,205.60 453.40,209.00 C453.87,212.40 454.40,219.83 454.90,225.00 C455.40,230.17 455.92,236.73 456.40,240.00 C456.88,243.27 457.33,244.00 457.80,244.60 C458.27,245.20 458.75,243.40 459.20,243.60 C459.65,243.80 460.03,245.13 460.50,245.80 C460.97,246.47 460.42,247.20 462.00,247.60 C463.58,248.00 455.25,248.12 470.00,248.20 C484.75,248.28 536.17,248.33 550.50,248.10 C564.83,247.87 553.92,247.22 556.00,246.80 C558.08,246.38 559.87,245.87 563.00,245.60 C566.13,245.33 571.63,245.13 574.80,245.20 C577.97,245.27 579.53,245.53 582.00,246.00 C584.47,246.47 586.63,247.63 589.60,248.00 C592.57,248.37 598.10,248.17 599.80,248.20" fill="none" stroke="#2a842a" stroke-width="1.2" stroke-linejoin="round" stroke-linecap="round" />
<path d="M364.30,317.50 C364.92,317.57 366.78,317.88 368.00,317.90 C369.22,317.92 370.43,317.58 371.60,317.60 C372.77,317.62 373.93,318.08 375.00,318.00 C376.07,317.92 376.80,317.12 378.00,317.10 C379.20,317.08 378.52,317.77 382.20,317.90 C385.88,318.03 396.83,318.55 400.10,317.90 C403.37,317.25 401.27,315.48 401.80,314.00 C402.33,312.52 402.68,311.17 403.30,309.00 C403.92,306.83 404.80,303.28 405.50,301.00 C406.20,298.72 406.83,297.13 407.50,295.30 C408.17,293.47 408.87,291.30 409.50,290.00 C410.13,288.70 410.72,287.73 411.30,287.50 C411.88,287.27 412.40,288.10 413.00,288.60 C413.60,289.10 414.07,289.90 414.90,290.50 C415.73,291.10 416.95,292.10 418.00,292.20 C419.05,292.30 420.13,291.10 421.20,291.10 C422.27,291.10 423.52,291.47 424.40,292.20 C425.28,292.93 425.80,294.45 426.50,295.50 C427.20,296.55 427.93,298.25 428.60,298.50 C429.27,298.75 429.80,298.05 430.50,297.00 C431.20,295.95 432.08,294.53 432.80,292.20 C433.52,289.87 434.17,286.17 434.80,283.00 C435.43,279.83 435.95,275.97 436.60,273.20 C437.25,270.43 438.13,267.18 438.70,266.40 C439.27,265.62 439.58,267.02 440.00,268.50 C440.42,269.98 440.73,271.72 441.20,275.30 C441.67,278.88 442.27,285.43 442.80,290.00 C443.33,294.57 443.87,299.78 444.40,302.70 C444.93,305.62 445.48,306.45 446.00,307.50 C446.52,308.55 446.88,308.92 447.50,309.00 C448.12,309.08 449.07,307.83 449.70,308.00 C450.33,308.17 450.78,309.12 451.30,310.00 C451.82,310.88 452.27,312.22 452.80,313.30 C453.33,314.38 453.97,315.73 454.50,316.50 C455.03,317.27 431.78,317.65 456.00,317.90 C480.22,318.15 575.83,317.98 599.80,318.00" fill="none" stroke="#8a1f8a" stroke-width="1.2" stroke-linejoin="round" stroke-linecap="round" />
<path d="M363.30,385.50 C363.75,385.42 364.88,384.97 366.00,385.00 C367.12,385.03 368.67,385.72 370.00,385.70 C371.33,385.68 372.73,384.90 374.00,384.90 C375.27,384.90 376.27,385.65 377.60,385.70 C378.93,385.75 380.53,385.40 382.00,385.20 C383.47,385.00 385.07,384.42 386.40,384.50 C387.73,384.58 388.57,385.55 390.00,385.70 C391.43,385.85 393.30,385.43 395.00,385.40 C396.70,385.37 399.13,387.57 400.20,385.50 C401.27,383.43 401.02,376.92 401.40,373.00 C401.78,369.08 402.07,365.17 402.50,362.00 C402.93,358.83 403.55,356.40 404.00,354.00 C404.45,351.60 404.62,349.93 405.20,347.60 C405.78,345.27 406.67,342.22 407.50,340.00 C408.33,337.78 409.45,334.88 410.20,334.30 C410.95,333.72 411.38,335.12 412.00,336.50 C412.62,337.88 413.07,339.52 413.90,342.60 C414.73,345.68 415.95,351.00 417.00,355.00 C418.05,359.00 419.20,363.35 420.20,366.60 C421.20,369.85 421.95,372.07 423.00,374.50 C424.05,376.93 425.43,379.40 426.50,381.20 C427.57,383.00 428.65,385.00 429.40,385.30 C430.15,385.60 430.48,384.38 431.00,383.00 C431.52,381.62 432.00,379.48 432.50,377.00 C433.00,374.52 433.52,371.77 434.00,368.10 C434.48,364.43 434.93,359.18 435.40,355.00 C435.87,350.82 436.30,346.17 436.80,343.00 C437.30,339.83 437.90,336.33 438.40,336.00 C438.90,335.67 439.28,337.82 439.80,341.00 C440.32,344.18 440.88,349.93 441.50,355.10 C442.12,360.27 442.87,366.97 443.50,372.00 C444.13,377.03 444.78,383.47 445.30,385.30 C445.82,387.13 446.18,384.28 446.60,383.00 C447.02,381.72 447.32,381.10 447.80,377.60 C448.28,374.10 448.88,366.80 449.50,362.00 C450.12,357.20 450.87,349.80 451.50,348.80 C452.13,347.80 452.67,352.45 453.30,356.00 C453.93,359.55 454.60,366.10 455.30,370.10 C456.00,374.10 456.88,377.48 457.50,380.00 C458.12,382.52 458.42,384.25 459.00,385.20 C459.58,386.15 446.50,385.63 461.00,385.70 C475.50,385.77 530.67,385.83 546.00,385.60 C561.33,385.37 550.33,384.75 553.00,384.30 C555.67,383.85 558.73,383.23 562.00,382.90 C565.27,382.57 568.77,382.28 572.60,382.30 C576.43,382.32 580.62,382.45 585.00,383.00 C589.38,383.55 596.58,385.17 598.90,385.60" fill="none" stroke="#e0207a" stroke-width="1.2" stroke-linejoin="round" stroke-linecap="round" />
<text x="367.80" y="195.90" font-size="8.5" fill="#2e8b2e" stroke="#2e8b2e" stroke-width="0.2" text-anchor="start" font-weight="normal" >ba-GO</text>
<text x="413.00" y="195.60" font-size="8.8" fill="#111" stroke="#111" stroke-width="0.2" text-anchor="start" font-weight="normal" >υC–O–C</text>
<line x1="449.80" y1="192.10" x2="455.30" y2="192.10" stroke="#111" stroke-width="0.8" />
<path d="M459.30,192.10 L455.30,193.70 L455.30,190.50 Z" fill="#111"/>
<line x1="442.70" y1="201.40" x2="454.70" y2="201.40" stroke="#111" stroke-width="0.8" />
<path d="M458.70,201.40 L454.70,203.00 L454.70,199.80 Z" fill="#111"/>
<line x1="459.80" y1="217.20" x2="469.30" y2="217.20" stroke="#111" stroke-width="0.8" />
<path d="M473.30,217.20 L469.30,218.80 L469.30,215.60 Z" fill="#111"/>
<text x="461.60" y="194.30" font-size="8.5" fill="#111" stroke="#111" stroke-width="0.2" text-anchor="start"><tspan dy="0.00">υCOOH, υC=O</tspan></text>
<text x="462.10" y="205.40" font-size="8.5" fill="#111" stroke="#111" stroke-width="0.2" text-anchor="start"><tspan dy="0.00">υsp</tspan><tspan font-size="5.78" dy="-3.83">2</tspan><tspan dy="3.83">-C, υCOO</tspan></text>
<text x="476.80" y="219.20" font-size="8.5" fill="#111" stroke="#111" stroke-width="0.2" text-anchor="start"><tspan dy="0.00">υC=O</tspan></text>
<text x="378.60" y="267.30" font-size="8.5" fill="#111" stroke="#111" stroke-width="0.2" text-anchor="start"><tspan dy="0.00">COO</tspan><tspan font-size="5.78" dy="-3.83">−</tspan><tspan dy="3.83"> forms</tspan></text>
<text x="368.50" y="281.10" font-size="8.5" fill="#9a3a9a" stroke="#9a3a9a" stroke-width="0.2" text-anchor="start" font-weight="normal" >R-baGO</text>
<line x1="424.40" y1="270.00" x2="424.40" y2="287.40" stroke="#111" stroke-width="0.8" />
<path d="M424.40,291.00 L422.90,287.40 L425.90,287.40 Z" fill="#111"/>
<line x1="424.40" y1="270.00" x2="431.85" y2="283.45" stroke="#111" stroke-width="0.8" />
<path d="M433.60,286.60 L430.54,284.18 L433.17,282.72 Z" fill="#111"/>
<text x="471.20" y="269.40" font-size="8.5" fill="#111" stroke="#111" stroke-width="0.2" text-anchor="start" font-weight="normal" >Carboxyl</text>
<text x="471.20" y="280.00" font-size="8.5" fill="#111" stroke="#111" stroke-width="0.2" text-anchor="start" font-weight="normal" >loss</text>
<text x="471.20" y="291.00" font-size="8.5" fill="#111" stroke="#111" stroke-width="0.2" text-anchor="start" font-weight="normal" >(–COOH)</text>
<line x1="469.50" y1="269.00" x2="451.28" y2="303.61" stroke="#111" stroke-width="0.8" />
<path d="M449.60,306.80 L449.95,302.92 L452.60,304.31 Z" fill="#111"/>
<line x1="509.60" y1="274.30" x2="521.60" y2="274.30" stroke="#111" stroke-width="0.8" />
<path d="M525.60,274.30 L521.60,275.90 L521.60,272.70 Z" fill="#111"/>
<text x="367.80" y="340.80" font-size="8.5" fill="#111" stroke="#111" stroke-width="0.2" text-anchor="start"><tspan dy="0.00">COO</tspan><tspan font-size="5.78" dy="-3.83">−</tspan></text>
<text x="367.80" y="351.30" font-size="8.5" fill="#111" stroke="#111" stroke-width="0.2" text-anchor="start" font-weight="normal" >disappears</text>
<path d="M392.00,337.00 L424.90,337.00 L424.90,372.50" fill="none" stroke="#555" stroke-width="0.8" stroke-linejoin="round" />
<line x1="424.90" y1="370.00" x2="424.90" y2="373.10" stroke="#333" stroke-width="0.8" />
<path d="M424.90,376.70 L423.40,373.10 L426.40,373.10 Z" fill="#333"/>
<text x="367.6" y="396.3" font-size="8.5" fill="#e0207a" stroke="#e0207a" stroke-width="0.2">R-baGO<tspan font-size="5.8" dy="-3">*</tspan></text>
<text x="470.60" y="343.70" font-size="8.5" fill="#111" stroke="#111" stroke-width="0.2" text-anchor="start" font-weight="normal" >Carboxyl</text>
<text x="470.60" y="354.40" font-size="8.5" fill="#111" stroke="#111" stroke-width="0.2" text-anchor="start" font-weight="normal" >recovery</text>
<text x="470.60" y="364.00" font-size="8.5" fill="#111" stroke="#111" stroke-width="0.2" text-anchor="start" font-weight="normal" >(+COOH)</text>
<line x1="467.60" y1="348.80" x2="458.09" y2="366.62" stroke="#111" stroke-width="0.8" />
<path d="M456.40,369.80 L456.77,365.92 L459.42,367.33 Z" fill="#111"/>
<line x1="513.90" y1="338.80" x2="525.20" y2="338.80" stroke="#111" stroke-width="0.8" />
<path d="M529.20,338.80 L525.20,340.40 L525.20,337.20 Z" fill="#111"/>
<text x="595.00" y="396.20" font-size="8.5" fill="#111" stroke="#111" stroke-width="0.2" text-anchor="end"><tspan dy="0.00">υCOOH, υH</tspan><tspan font-size="5.78" dy="2.04">2</tspan><tspan dy="-2.04">O, υC-OH</tspan></text>
<text x="481.90" y="425.40" font-size="8.5" fill="#2a2a2a" stroke="#2a2a2a" stroke-width="0.2" text-anchor="middle"><tspan dy="0.00">Wavenumber (cm</tspan><tspan font-size="5.78" dy="-3.83">−1</tspan><tspan dy="3.83">)</tspan></text>
<text x="0.00" y="0.00" font-size="8.3" fill="#2a2a2a" stroke="#2a2a2a" stroke-width="0.2" text-anchor="middle" font-weight="normal" transform="translate(355.8,292.8) rotate(-90)">Absorbance (a.u.)</text>
<line x1="541.09" y1="209.65" x2="536.70" y2="204.50" stroke="#3acc3a" stroke-width="2.0" stroke-linecap="round"/>
<line x1="536.70" y1="204.50" x2="531.10" y2="203.70" stroke="#3acc3a" stroke-width="2.0" stroke-linecap="round"/>
<line x1="536.70" y1="204.50" x2="540.50" y2="198.50" stroke="#3acc3a" stroke-width="2.0" stroke-linecap="round"/>
<line x1="540.50" y1="198.50" x2="546.20" y2="197.90" stroke="#c8c8c8" stroke-width="2.0" stroke-linecap="round"/>
<line x1="557.70" y1="214.50" x2="559.60" y2="211.50" stroke="#3acc3a" stroke-width="2.0" stroke-linecap="round"/>
<line x1="559.60" y1="211.50" x2="564.00" y2="207.90" stroke="#c8c8c8" stroke-width="2.0" stroke-linecap="round"/>
<line x1="537.48" y1="227.19" x2="531.40" y2="228.10" stroke="#3acc3a" stroke-width="2.0" stroke-linecap="round"/>
<line x1="541.09" y1="233.04" x2="539.70" y2="239.50" stroke="#3acc3a" stroke-width="2.0" stroke-linecap="round"/>
<line x1="559.16" y1="238.89" x2="564.00" y2="242.50" stroke="#3acc3a" stroke-width="2.0" stroke-linecap="round"/>
<line x1="580.86" y1="227.20" x2="585.70" y2="228.70" stroke="#3acc3a" stroke-width="2.0" stroke-linecap="round"/>
<line x1="585.70" y1="228.70" x2="591.00" y2="228.10" stroke="#3acc3a" stroke-width="2.0" stroke-linecap="round"/>
<line x1="585.70" y1="228.70" x2="582.30" y2="234.10" stroke="#3acc3a" stroke-width="2.0" stroke-linecap="round"/>
<line x1="582.30" y1="234.10" x2="577.20" y2="235.90" stroke="#c8c8c8" stroke-width="2.0" stroke-linecap="round"/>
<line x1="559.15" y1="238.88" x2="562.76" y2="233.04" stroke="#3acc3a" stroke-width="2.3" stroke-linecap="round"/>
<line x1="541.09" y1="209.65" x2="548.31" y2="209.65" stroke="#3acc3a" stroke-width="2.3" stroke-linecap="round"/>
<line x1="569.98" y1="197.96" x2="573.59" y2="203.81" stroke="#3acc3a" stroke-width="2.3" stroke-linecap="round"/>
<line x1="580.81" y1="227.19" x2="584.42" y2="221.35" stroke="#3acc3a" stroke-width="2.3" stroke-linecap="round"/>
<line x1="562.76" y1="197.96" x2="569.98" y2="197.96" stroke="#3acc3a" stroke-width="2.3" stroke-linecap="round"/>
<line x1="548.31" y1="209.65" x2="551.92" y2="203.81" stroke="#3acc3a" stroke-width="2.3" stroke-linecap="round"/>
<line x1="559.15" y1="215.50" x2="562.76" y2="221.35" stroke="#3acc3a" stroke-width="2.3" stroke-linecap="round"/>
<line x1="541.09" y1="233.04" x2="548.31" y2="233.04" stroke="#3acc3a" stroke-width="2.3" stroke-linecap="round"/>
<line x1="548.31" y1="221.35" x2="551.92" y2="215.50" stroke="#3acc3a" stroke-width="2.3" stroke-linecap="round"/>
<line x1="551.92" y1="238.88" x2="559.15" y2="238.88" stroke="#3acc3a" stroke-width="2.3" stroke-linecap="round"/>
<line x1="569.98" y1="221.35" x2="573.59" y2="215.50" stroke="#3acc3a" stroke-width="2.3" stroke-linecap="round"/>
<line x1="548.31" y1="209.65" x2="551.92" y2="215.50" stroke="#3acc3a" stroke-width="2.3" stroke-linecap="round"/>
<line x1="569.98" y1="221.35" x2="573.59" y2="227.19" stroke="#3acc3a" stroke-width="2.3" stroke-linecap="round"/>
<line x1="548.31" y1="221.35" x2="551.92" y2="227.19" stroke="#3acc3a" stroke-width="2.3" stroke-linecap="round"/>
<line x1="562.76" y1="209.65" x2="569.98" y2="209.65" stroke="#3acc3a" stroke-width="2.3" stroke-linecap="round"/>
<line x1="559.15" y1="203.81" x2="562.76" y2="197.96" stroke="#3acc3a" stroke-width="2.3" stroke-linecap="round"/>
<line x1="573.59" y1="215.50" x2="580.81" y2="215.50" stroke="#3acc3a" stroke-width="2.3" stroke-linecap="round"/>
<line x1="551.92" y1="203.81" x2="559.15" y2="203.81" stroke="#3acc3a" stroke-width="2.3" stroke-linecap="round"/>
<line x1="537.48" y1="215.50" x2="541.09" y2="209.65" stroke="#3acc3a" stroke-width="2.3" stroke-linecap="round"/>
<line x1="559.15" y1="227.19" x2="562.76" y2="221.35" stroke="#3acc3a" stroke-width="2.3" stroke-linecap="round"/>
<line x1="569.98" y1="233.04" x2="573.59" y2="227.19" stroke="#3acc3a" stroke-width="2.3" stroke-linecap="round"/>
<line x1="541.09" y1="221.35" x2="548.31" y2="221.35" stroke="#3acc3a" stroke-width="2.3" stroke-linecap="round"/>
<line x1="551.92" y1="215.50" x2="559.15" y2="215.50" stroke="#3acc3a" stroke-width="2.3" stroke-linecap="round"/>
<line x1="559.15" y1="227.19" x2="562.76" y2="233.04" stroke="#3acc3a" stroke-width="2.3" stroke-linecap="round"/>
<line x1="551.92" y1="227.19" x2="559.15" y2="227.19" stroke="#3acc3a" stroke-width="2.3" stroke-linecap="round"/>
<line x1="548.31" y1="233.04" x2="551.92" y2="227.19" stroke="#3acc3a" stroke-width="2.3" stroke-linecap="round"/>
<line x1="559.15" y1="215.50" x2="562.76" y2="209.65" stroke="#3acc3a" stroke-width="2.3" stroke-linecap="round"/>
<line x1="562.76" y1="221.35" x2="569.98" y2="221.35" stroke="#3acc3a" stroke-width="2.3" stroke-linecap="round"/>
<line x1="562.76" y1="233.04" x2="569.98" y2="233.04" stroke="#3acc3a" stroke-width="2.3" stroke-linecap="round"/>
<line x1="573.59" y1="227.19" x2="580.81" y2="227.19" stroke="#3acc3a" stroke-width="2.3" stroke-linecap="round"/>
<line x1="569.98" y1="209.65" x2="573.59" y2="203.81" stroke="#3acc3a" stroke-width="2.3" stroke-linecap="round"/>
<line x1="537.48" y1="227.19" x2="541.09" y2="221.35" stroke="#3acc3a" stroke-width="2.3" stroke-linecap="round"/>
<line x1="559.15" y1="203.81" x2="562.76" y2="209.65" stroke="#3acc3a" stroke-width="2.3" stroke-linecap="round"/>
<line x1="580.81" y1="215.50" x2="584.42" y2="221.35" stroke="#3acc3a" stroke-width="2.3" stroke-linecap="round"/>
<line x1="537.48" y1="227.19" x2="541.09" y2="233.04" stroke="#3acc3a" stroke-width="2.3" stroke-linecap="round"/>
<line x1="548.31" y1="233.04" x2="551.92" y2="238.88" stroke="#3acc3a" stroke-width="2.3" stroke-linecap="round"/>
<line x1="537.48" y1="215.50" x2="541.09" y2="221.35" stroke="#3acc3a" stroke-width="2.3" stroke-linecap="round"/>
<line x1="569.98" y1="209.65" x2="573.59" y2="215.50" stroke="#3acc3a" stroke-width="2.3" stroke-linecap="round"/>
<circle cx="551.92" cy="215.50" r="1.95" fill="url(#gC)"/>
<circle cx="548.31" cy="221.35" r="1.95" fill="url(#gC)"/>
<circle cx="541.09" cy="221.35" r="1.95" fill="url(#gC)"/>
<circle cx="537.48" cy="215.50" r="1.95" fill="url(#gC)"/>
<circle cx="541.09" cy="209.65" r="1.95" fill="url(#gC)"/>
<circle cx="548.31" cy="209.65" r="1.95" fill="url(#gC)"/>
<circle cx="562.76" cy="209.65" r="1.95" fill="url(#gC)"/>
<circle cx="559.15" cy="215.50" r="1.95" fill="url(#gC)"/>
<circle cx="551.92" cy="203.81" r="1.95" fill="url(#gC)"/>
<circle cx="559.15" cy="203.81" r="1.95" fill="url(#gC)"/>
<circle cx="573.59" cy="203.81" r="1.95" fill="url(#gC)"/>
<circle cx="569.98" cy="209.65" r="1.95" fill="url(#gC)"/>
<circle cx="562.76" cy="197.96" r="1.95" fill="url(#gC)"/>
<circle cx="569.98" cy="197.96" r="1.95" fill="url(#gC)"/>
<circle cx="551.92" cy="227.19" r="1.95" fill="url(#gC)"/>
<circle cx="548.31" cy="233.04" r="1.95" fill="url(#gC)"/>
<circle cx="541.09" cy="233.04" r="1.95" fill="url(#gC)"/>
<circle cx="537.48" cy="227.19" r="1.95" fill="url(#gC)"/>
<circle cx="562.76" cy="221.35" r="1.95" fill="url(#gC)"/>
<circle cx="559.15" cy="227.19" r="1.95" fill="url(#gC)"/>
<circle cx="573.59" cy="215.50" r="1.95" fill="url(#gC)"/>
<circle cx="569.98" cy="221.35" r="1.95" fill="url(#gC)"/>
<circle cx="562.76" cy="233.04" r="1.95" fill="url(#gC)"/>
<circle cx="559.15" cy="238.88" r="1.95" fill="url(#gC)"/>
<circle cx="551.92" cy="238.88" r="1.95" fill="url(#gC)"/>
<circle cx="573.59" cy="227.19" r="1.95" fill="url(#gC)"/>
<circle cx="569.98" cy="233.04" r="1.95" fill="url(#gC)"/>
<circle cx="584.42" cy="221.35" r="1.95" fill="url(#gC)"/>
<circle cx="580.81" cy="227.19" r="1.95" fill="url(#gC)"/>
<circle cx="580.81" cy="215.50" r="1.95" fill="url(#gC)"/>
<circle cx="536.70" cy="204.50" r="1.95" fill="url(#gC)"/>
<circle cx="531.10" cy="203.70" r="2.2" fill="url(#gO)"/>
<circle cx="540.50" cy="198.50" r="2.2" fill="url(#gO)"/>
<circle cx="546.20" cy="197.90" r="2.0" fill="url(#gH)"/>
<circle cx="559.60" cy="211.50" r="2.2" fill="url(#gO)"/>
<circle cx="564.00" cy="207.90" r="2.0" fill="url(#gH)"/>
<circle cx="531.40" cy="228.10" r="2.2" fill="url(#gO)"/>
<circle cx="539.70" cy="239.50" r="2.2" fill="url(#gO)"/>
<circle cx="564.00" cy="242.50" r="2.2" fill="url(#gO)"/>
<circle cx="585.70" cy="228.70" r="1.95" fill="url(#gC)"/>
<circle cx="591.00" cy="228.10" r="2.2" fill="url(#gO)"/>
<circle cx="582.30" cy="234.10" r="2.2" fill="url(#gO)"/>
<circle cx="577.20" cy="235.90" r="2.0" fill="url(#gH)"/>
<line x1="542.49" y1="280.85" x2="538.10" y2="275.70" stroke="#3acc3a" stroke-width="2.0" stroke-linecap="round"/>
<line x1="538.10" y1="275.70" x2="532.50" y2="274.90" stroke="#3acc3a" stroke-width="2.0" stroke-linecap="round"/>
<line x1="538.10" y1="275.70" x2="541.90" y2="269.70" stroke="#3acc3a" stroke-width="2.0" stroke-linecap="round"/>
<line x1="559.10" y1="285.70" x2="561.00" y2="282.70" stroke="#3acc3a" stroke-width="2.0" stroke-linecap="round"/>
<line x1="538.88" y1="298.39" x2="532.80" y2="299.30" stroke="#3acc3a" stroke-width="2.0" stroke-linecap="round"/>
<line x1="542.49" y1="304.24" x2="541.10" y2="310.70" stroke="#3acc3a" stroke-width="2.0" stroke-linecap="round"/>
<line x1="560.56" y1="310.09" x2="565.40" y2="313.70" stroke="#3acc3a" stroke-width="2.0" stroke-linecap="round"/>
<line x1="582.26" y1="298.40" x2="587.10" y2="299.90" stroke="#3acc3a" stroke-width="2.0" stroke-linecap="round"/>
<line x1="587.10" y1="299.90" x2="592.40" y2="299.30" stroke="#3acc3a" stroke-width="2.0" stroke-linecap="round"/>
<line x1="587.10" y1="299.90" x2="583.70" y2="305.30" stroke="#3acc3a" stroke-width="2.0" stroke-linecap="round"/>
<line x1="560.55" y1="286.70" x2="564.16" y2="292.55" stroke="#3acc3a" stroke-width="2.3" stroke-linecap="round"/>
<line x1="582.21" y1="286.70" x2="585.82" y2="292.55" stroke="#3acc3a" stroke-width="2.3" stroke-linecap="round"/>
<line x1="553.32" y1="275.01" x2="560.55" y2="275.01" stroke="#3acc3a" stroke-width="2.3" stroke-linecap="round"/>
<line x1="549.71" y1="292.55" x2="553.32" y2="286.70" stroke="#3acc3a" stroke-width="2.3" stroke-linecap="round"/>
<line x1="571.38" y1="292.55" x2="574.99" y2="286.70" stroke="#3acc3a" stroke-width="2.3" stroke-linecap="round"/>
<line x1="549.71" y1="304.24" x2="553.32" y2="298.39" stroke="#3acc3a" stroke-width="2.3" stroke-linecap="round"/>
<line x1="553.32" y1="310.08" x2="560.55" y2="310.08" stroke="#3acc3a" stroke-width="2.3" stroke-linecap="round"/>
<line x1="549.71" y1="292.55" x2="553.32" y2="298.39" stroke="#3acc3a" stroke-width="2.3" stroke-linecap="round"/>
<line x1="560.55" y1="310.08" x2="564.16" y2="304.24" stroke="#3acc3a" stroke-width="2.3" stroke-linecap="round"/>
<line x1="553.32" y1="286.70" x2="560.55" y2="286.70" stroke="#3acc3a" stroke-width="2.3" stroke-linecap="round"/>
<line x1="564.16" y1="269.16" x2="571.38" y2="269.16" stroke="#3acc3a" stroke-width="2.3" stroke-linecap="round"/>
<line x1="571.38" y1="280.85" x2="574.99" y2="275.01" stroke="#3acc3a" stroke-width="2.3" stroke-linecap="round"/>
<line x1="571.38" y1="292.55" x2="574.99" y2="298.39" stroke="#3acc3a" stroke-width="2.3" stroke-linecap="round"/>
<line x1="553.32" y1="298.39" x2="560.55" y2="298.39" stroke="#3acc3a" stroke-width="2.3" stroke-linecap="round"/>
<line x1="549.71" y1="280.85" x2="553.32" y2="286.70" stroke="#3acc3a" stroke-width="2.3" stroke-linecap="round"/>
<line x1="560.55" y1="275.01" x2="564.16" y2="269.16" stroke="#3acc3a" stroke-width="2.3" stroke-linecap="round"/>
<line x1="564.16" y1="280.85" x2="571.38" y2="280.85" stroke="#3acc3a" stroke-width="2.3" stroke-linecap="round"/>
<line x1="538.88" y1="286.70" x2="542.49" y2="292.55" stroke="#3acc3a" stroke-width="2.3" stroke-linecap="round"/>
<line x1="542.49" y1="304.24" x2="549.71" y2="304.24" stroke="#3acc3a" stroke-width="2.3" stroke-linecap="round"/>
<line x1="560.55" y1="286.70" x2="564.16" y2="280.85" stroke="#3acc3a" stroke-width="2.3" stroke-linecap="round"/>
<line x1="571.38" y1="304.24" x2="574.99" y2="298.39" stroke="#3acc3a" stroke-width="2.3" stroke-linecap="round"/>
<line x1="564.16" y1="304.24" x2="571.38" y2="304.24" stroke="#3acc3a" stroke-width="2.3" stroke-linecap="round"/>
<line x1="542.49" y1="280.85" x2="549.71" y2="280.85" stroke="#3acc3a" stroke-width="2.3" stroke-linecap="round"/>
<line x1="538.88" y1="298.39" x2="542.49" y2="292.55" stroke="#3acc3a" stroke-width="2.3" stroke-linecap="round"/>
<line x1="582.21" y1="298.39" x2="585.82" y2="292.55" stroke="#3acc3a" stroke-width="2.3" stroke-linecap="round"/>
<line x1="560.55" y1="298.39" x2="564.16" y2="292.55" stroke="#3acc3a" stroke-width="2.3" stroke-linecap="round"/>
<line x1="574.99" y1="298.39" x2="582.21" y2="298.39" stroke="#3acc3a" stroke-width="2.3" stroke-linecap="round"/>
<line x1="571.38" y1="280.85" x2="574.99" y2="286.70" stroke="#3acc3a" stroke-width="2.3" stroke-linecap="round"/>
<line x1="549.71" y1="280.85" x2="553.32" y2="275.01" stroke="#3acc3a" stroke-width="2.3" stroke-linecap="round"/>
<line x1="564.16" y1="292.55" x2="571.38" y2="292.55" stroke="#3acc3a" stroke-width="2.3" stroke-linecap="round"/>
<line x1="542.49" y1="292.55" x2="549.71" y2="292.55" stroke="#3acc3a" stroke-width="2.3" stroke-linecap="round"/>
<line x1="560.55" y1="275.01" x2="564.16" y2="280.85" stroke="#3acc3a" stroke-width="2.3" stroke-linecap="round"/>
<line x1="538.88" y1="298.39" x2="542.49" y2="304.24" stroke="#3acc3a" stroke-width="2.3" stroke-linecap="round"/>
<line x1="571.38" y1="269.16" x2="574.99" y2="275.01" stroke="#3acc3a" stroke-width="2.3" stroke-linecap="round"/>
<line x1="538.88" y1="286.70" x2="542.49" y2="280.85" stroke="#3acc3a" stroke-width="2.3" stroke-linecap="round"/>
<line x1="549.71" y1="304.24" x2="553.32" y2="310.08" stroke="#3acc3a" stroke-width="2.3" stroke-linecap="round"/>
<line x1="574.99" y1="286.70" x2="582.21" y2="286.70" stroke="#3acc3a" stroke-width="2.3" stroke-linecap="round"/>
<line x1="560.55" y1="298.39" x2="564.16" y2="304.24" stroke="#3acc3a" stroke-width="2.3" stroke-linecap="round"/>
<circle cx="553.32" cy="286.70" r="1.95" fill="url(#gC)"/>
<circle cx="549.71" cy="292.55" r="1.95" fill="url(#gC)"/>
<circle cx="542.49" cy="292.55" r="1.95" fill="url(#gC)"/>
<circle cx="538.88" cy="286.70" r="1.95" fill="url(#gC)"/>
<circle cx="542.49" cy="280.85" r="1.95" fill="url(#gC)"/>
<circle cx="549.71" cy="280.85" r="1.95" fill="url(#gC)"/>
<circle cx="564.16" cy="280.85" r="1.95" fill="url(#gC)"/>
<circle cx="560.55" cy="286.70" r="1.95" fill="url(#gC)"/>
<circle cx="553.32" cy="275.01" r="1.95" fill="url(#gC)"/>
<circle cx="560.55" cy="275.01" r="1.95" fill="url(#gC)"/>
<circle cx="574.99" cy="275.01" r="1.95" fill="url(#gC)"/>
<circle cx="571.38" cy="280.85" r="1.95" fill="url(#gC)"/>
<circle cx="564.16" cy="269.16" r="1.95" fill="url(#gC)"/>
<circle cx="571.38" cy="269.16" r="1.95" fill="url(#gC)"/>
<circle cx="553.32" cy="298.39" r="1.95" fill="url(#gC)"/>
<circle cx="549.71" cy="304.24" r="1.95" fill="url(#gC)"/>
<circle cx="542.49" cy="304.24" r="1.95" fill="url(#gC)"/>
<circle cx="538.88" cy="298.39" r="1.95" fill="url(#gC)"/>
<circle cx="564.16" cy="292.55" r="1.95" fill="url(#gC)"/>
<circle cx="560.55" cy="298.39" r="1.95" fill="url(#gC)"/>
<circle cx="574.99" cy="286.70" r="1.95" fill="url(#gC)"/>
<circle cx="571.38" cy="292.55" r="1.95" fill="url(#gC)"/>
<circle cx="564.16" cy="304.24" r="1.95" fill="url(#gC)"/>
<circle cx="560.55" cy="310.08" r="1.95" fill="url(#gC)"/>
<circle cx="553.32" cy="310.08" r="1.95" fill="url(#gC)"/>
<circle cx="574.99" cy="298.39" r="1.95" fill="url(#gC)"/>
<circle cx="571.38" cy="304.24" r="1.95" fill="url(#gC)"/>
<circle cx="585.82" cy="292.55" r="1.95" fill="url(#gC)"/>
<circle cx="582.21" cy="298.39" r="1.95" fill="url(#gC)"/>
<circle cx="582.21" cy="286.70" r="1.95" fill="url(#gC)"/>
<circle cx="538.10" cy="275.70" r="1.95" fill="url(#gC)"/>
<circle cx="532.50" cy="274.90" r="2.2" fill="url(#gO)"/>
<circle cx="541.90" cy="269.70" r="2.2" fill="url(#gO)"/>
<circle cx="561.00" cy="282.70" r="2.2" fill="url(#gO)"/>
<circle cx="532.80" cy="299.30" r="2.2" fill="url(#gO)"/>
<circle cx="541.10" cy="310.70" r="2.2" fill="url(#gO)"/>
<circle cx="565.40" cy="313.70" r="2.2" fill="url(#gO)"/>
<circle cx="587.10" cy="299.90" r="1.95" fill="url(#gC)"/>
<circle cx="592.40" cy="299.30" r="2.2" fill="url(#gO)"/>
<circle cx="583.70" cy="305.30" r="2.2" fill="url(#gO)"/>
<line x1="543.39" y1="345.35" x2="539.00" y2="340.20" stroke="#3acc3a" stroke-width="2.0" stroke-linecap="round"/>
<line x1="539.00" y1="340.20" x2="533.40" y2="339.40" stroke="#3acc3a" stroke-width="2.0" stroke-linecap="round"/>
<line x1="539.00" y1="340.20" x2="542.80" y2="334.20" stroke="#3acc3a" stroke-width="2.0" stroke-linecap="round"/>
<line x1="542.80" y1="334.20" x2="548.50" y2="333.60" stroke="#c8c8c8" stroke-width="2.0" stroke-linecap="round"/>
<line x1="560.00" y1="350.20" x2="561.90" y2="347.20" stroke="#3acc3a" stroke-width="2.0" stroke-linecap="round"/>
<line x1="561.90" y1="347.20" x2="566.30" y2="343.60" stroke="#c8c8c8" stroke-width="2.0" stroke-linecap="round"/>
<line x1="539.78" y1="362.89" x2="533.70" y2="363.80" stroke="#3acc3a" stroke-width="2.0" stroke-linecap="round"/>
<line x1="533.70" y1="363.80" x2="531.40" y2="357.00" stroke="#c8c8c8" stroke-width="2.0" stroke-linecap="round"/>
<line x1="543.39" y1="368.74" x2="542.00" y2="375.20" stroke="#3acc3a" stroke-width="2.0" stroke-linecap="round"/>
<line x1="542.00" y1="375.20" x2="543.70" y2="381.60" stroke="#c8c8c8" stroke-width="2.0" stroke-linecap="round"/>
<line x1="561.46" y1="374.59" x2="566.30" y2="378.20" stroke="#3acc3a" stroke-width="2.0" stroke-linecap="round"/>
<line x1="583.16" y1="362.90" x2="588.00" y2="364.40" stroke="#3acc3a" stroke-width="2.0" stroke-linecap="round"/>
<line x1="588.00" y1="364.40" x2="593.30" y2="363.80" stroke="#3acc3a" stroke-width="2.0" stroke-linecap="round"/>
<line x1="588.00" y1="364.40" x2="584.60" y2="369.80" stroke="#3acc3a" stroke-width="2.0" stroke-linecap="round"/>
<line x1="584.60" y1="369.80" x2="579.50" y2="371.60" stroke="#c8c8c8" stroke-width="2.0" stroke-linecap="round"/>
<line x1="539.78" y1="351.20" x2="543.39" y2="357.05" stroke="#3acc3a" stroke-width="2.3" stroke-linecap="round"/>
<line x1="561.45" y1="362.89" x2="565.06" y2="357.05" stroke="#3acc3a" stroke-width="2.3" stroke-linecap="round"/>
<line x1="572.28" y1="345.35" x2="575.89" y2="339.51" stroke="#3acc3a" stroke-width="2.3" stroke-linecap="round"/>
<line x1="583.11" y1="362.89" x2="586.72" y2="357.05" stroke="#3acc3a" stroke-width="2.3" stroke-linecap="round"/>
<line x1="543.39" y1="357.05" x2="550.61" y2="357.05" stroke="#3acc3a" stroke-width="2.3" stroke-linecap="round"/>
<line x1="572.28" y1="368.74" x2="575.89" y2="362.89" stroke="#3acc3a" stroke-width="2.3" stroke-linecap="round"/>
<line x1="561.45" y1="339.51" x2="565.06" y2="345.35" stroke="#3acc3a" stroke-width="2.3" stroke-linecap="round"/>
<line x1="561.45" y1="362.89" x2="565.06" y2="368.74" stroke="#3acc3a" stroke-width="2.3" stroke-linecap="round"/>
<line x1="575.89" y1="351.20" x2="583.11" y2="351.20" stroke="#3acc3a" stroke-width="2.3" stroke-linecap="round"/>
<line x1="583.11" y1="351.20" x2="586.72" y2="357.05" stroke="#3acc3a" stroke-width="2.3" stroke-linecap="round"/>
<line x1="565.06" y1="345.35" x2="572.28" y2="345.35" stroke="#3acc3a" stroke-width="2.3" stroke-linecap="round"/>
<line x1="565.06" y1="333.66" x2="572.28" y2="333.66" stroke="#3acc3a" stroke-width="2.3" stroke-linecap="round"/>
<line x1="554.22" y1="351.20" x2="561.45" y2="351.20" stroke="#3acc3a" stroke-width="2.3" stroke-linecap="round"/>
<line x1="561.45" y1="351.20" x2="565.06" y2="345.35" stroke="#3acc3a" stroke-width="2.3" stroke-linecap="round"/>
<line x1="554.22" y1="339.51" x2="561.45" y2="339.51" stroke="#3acc3a" stroke-width="2.3" stroke-linecap="round"/>
<line x1="565.06" y1="368.74" x2="572.28" y2="368.74" stroke="#3acc3a" stroke-width="2.3" stroke-linecap="round"/>
<line x1="572.28" y1="357.05" x2="575.89" y2="362.89" stroke="#3acc3a" stroke-width="2.3" stroke-linecap="round"/>
<line x1="572.28" y1="333.66" x2="575.89" y2="339.51" stroke="#3acc3a" stroke-width="2.3" stroke-linecap="round"/>
<line x1="550.61" y1="345.35" x2="554.22" y2="339.51" stroke="#3acc3a" stroke-width="2.3" stroke-linecap="round"/>
<line x1="554.22" y1="374.58" x2="561.45" y2="374.58" stroke="#3acc3a" stroke-width="2.3" stroke-linecap="round"/>
<line x1="539.78" y1="351.20" x2="543.39" y2="345.35" stroke="#3acc3a" stroke-width="2.3" stroke-linecap="round"/>
<line x1="561.45" y1="374.58" x2="565.06" y2="368.74" stroke="#3acc3a" stroke-width="2.3" stroke-linecap="round"/>
<line x1="539.78" y1="362.89" x2="543.39" y2="357.05" stroke="#3acc3a" stroke-width="2.3" stroke-linecap="round"/>
<line x1="550.61" y1="368.74" x2="554.22" y2="362.89" stroke="#3acc3a" stroke-width="2.3" stroke-linecap="round"/>
<line x1="550.61" y1="368.74" x2="554.22" y2="374.58" stroke="#3acc3a" stroke-width="2.3" stroke-linecap="round"/>
<line x1="550.61" y1="345.35" x2="554.22" y2="351.20" stroke="#3acc3a" stroke-width="2.3" stroke-linecap="round"/>
<line x1="550.61" y1="357.05" x2="554.22" y2="351.20" stroke="#3acc3a" stroke-width="2.3" stroke-linecap="round"/>
<line x1="554.22" y1="362.89" x2="561.45" y2="362.89" stroke="#3acc3a" stroke-width="2.3" stroke-linecap="round"/>
<line x1="543.39" y1="345.35" x2="550.61" y2="345.35" stroke="#3acc3a" stroke-width="2.3" stroke-linecap="round"/>
<line x1="539.78" y1="362.89" x2="543.39" y2="368.74" stroke="#3acc3a" stroke-width="2.3" stroke-linecap="round"/>
<line x1="561.45" y1="351.20" x2="565.06" y2="357.05" stroke="#3acc3a" stroke-width="2.3" stroke-linecap="round"/>
<line x1="565.06" y1="357.05" x2="572.28" y2="357.05" stroke="#3acc3a" stroke-width="2.3" stroke-linecap="round"/>
<line x1="575.89" y1="362.89" x2="583.11" y2="362.89" stroke="#3acc3a" stroke-width="2.3" stroke-linecap="round"/>
<line x1="543.39" y1="368.74" x2="550.61" y2="368.74" stroke="#3acc3a" stroke-width="2.3" stroke-linecap="round"/>
<line x1="550.61" y1="357.05" x2="554.22" y2="362.89" stroke="#3acc3a" stroke-width="2.3" stroke-linecap="round"/>
<line x1="572.28" y1="345.35" x2="575.89" y2="351.20" stroke="#3acc3a" stroke-width="2.3" stroke-linecap="round"/>
<line x1="572.28" y1="357.05" x2="575.89" y2="351.20" stroke="#3acc3a" stroke-width="2.3" stroke-linecap="round"/>
<line x1="561.45" y1="339.51" x2="565.06" y2="333.66" stroke="#3acc3a" stroke-width="2.3" stroke-linecap="round"/>
<circle cx="554.22" cy="351.20" r="1.95" fill="url(#gC)"/>
<circle cx="550.61" cy="357.05" r="1.95" fill="url(#gC)"/>
<circle cx="543.39" cy="357.05" r="1.95" fill="url(#gC)"/>
<circle cx="539.78" cy="351.20" r="1.95" fill="url(#gC)"/>
<circle cx="543.39" cy="345.35" r="1.95" fill="url(#gC)"/>
<circle cx="550.61" cy="345.35" r="1.95" fill="url(#gC)"/>
<circle cx="565.06" cy="345.35" r="1.95" fill="url(#gC)"/>
<circle cx="561.45" cy="351.20" r="1.95" fill="url(#gC)"/>
<circle cx="554.22" cy="339.51" r="1.95" fill="url(#gC)"/>
<circle cx="561.45" cy="339.51" r="1.95" fill="url(#gC)"/>
<circle cx="575.89" cy="339.51" r="1.95" fill="url(#gC)"/>
<circle cx="572.28" cy="345.35" r="1.95" fill="url(#gC)"/>
<circle cx="565.06" cy="333.66" r="1.95" fill="url(#gC)"/>
<circle cx="572.28" cy="333.66" r="1.95" fill="url(#gC)"/>
<circle cx="554.22" cy="362.89" r="1.95" fill="url(#gC)"/>
<circle cx="550.61" cy="368.74" r="1.95" fill="url(#gC)"/>
<circle cx="543.39" cy="368.74" r="1.95" fill="url(#gC)"/>
<circle cx="539.78" cy="362.89" r="1.95" fill="url(#gC)"/>
<circle cx="565.06" cy="357.05" r="1.95" fill="url(#gC)"/>
<circle cx="561.45" cy="362.89" r="1.95" fill="url(#gC)"/>
<circle cx="575.89" cy="351.20" r="1.95" fill="url(#gC)"/>
<circle cx="572.28" cy="357.05" r="1.95" fill="url(#gC)"/>
<circle cx="565.06" cy="368.74" r="1.95" fill="url(#gC)"/>
<circle cx="561.45" cy="374.58" r="1.95" fill="url(#gC)"/>
<circle cx="554.22" cy="374.58" r="1.95" fill="url(#gC)"/>
<circle cx="575.89" cy="362.89" r="1.95" fill="url(#gC)"/>
<circle cx="572.28" cy="368.74" r="1.95" fill="url(#gC)"/>
<circle cx="586.72" cy="357.05" r="1.95" fill="url(#gC)"/>
<circle cx="583.11" cy="362.89" r="1.95" fill="url(#gC)"/>
<circle cx="583.11" cy="351.20" r="1.95" fill="url(#gC)"/>
<circle cx="539.00" cy="340.20" r="1.95" fill="url(#gC)"/>
<circle cx="533.40" cy="339.40" r="2.2" fill="url(#gO)"/>
<circle cx="542.80" cy="334.20" r="2.2" fill="url(#gO)"/>
<circle cx="548.50" cy="333.60" r="2.0" fill="url(#gH)"/>
<circle cx="561.90" cy="347.20" r="2.2" fill="url(#gO)"/>
<circle cx="566.30" cy="343.60" r="2.0" fill="url(#gH)"/>
<circle cx="533.70" cy="363.80" r="2.2" fill="url(#gO)"/>
<circle cx="531.40" cy="357.00" r="2.0" fill="url(#gH)"/>
<circle cx="542.00" cy="375.20" r="2.2" fill="url(#gO)"/>
<circle cx="543.70" cy="381.60" r="2.0" fill="url(#gH)"/>
<circle cx="566.30" cy="378.20" r="2.2" fill="url(#gO)"/>
<circle cx="588.00" cy="364.40" r="1.95" fill="url(#gC)"/>
<circle cx="593.30" cy="363.80" r="2.2" fill="url(#gO)"/>
<circle cx="584.60" cy="369.80" r="2.2" fill="url(#gO)"/>
<circle cx="579.50" cy="371.60" r="2.0" fill="url(#gH)"/>
<line x1="549.60" y1="238.50" x2="549.60" y2="262.00" stroke="#2a3ad6" stroke-width="0.8" stroke-dasharray="1.2,1.0"/>
<path d="M549.6,266.0 L547.8,261.5 L551.4,261.5 Z" fill="#2a3ad6"/>
<text x="551.20" y="254.60" font-size="7.0" fill="#2a3ad6" stroke="#2a3ad6" stroke-width="0.08" text-anchor="start"><tspan dy="0.00">NaBH</tspan><tspan font-size="4.76" dy="1.68">4</tspan></text>
<line x1="551.00" y1="309.50" x2="551.00" y2="331.50" stroke="#2a3ad6" stroke-width="0.8" stroke-dasharray="1.2,1.0"/>
<path d="M551.2,335.7 L549.4,331.2 L553.0,331.2 Z" fill="#2a3ad6"/>
<text x="554.30" y="325.30" font-size="7.0" fill="#2a3ad6" stroke="#2a3ad6" stroke-width="0.2" text-anchor="start" font-weight="normal" >HCl</text>
<text x="522.20" y="266.80" font-size="7.0" fill="#2a3ad6" stroke="#2a3ad6" stroke-width="0.08" text-anchor="start"><tspan dy="0.00">Na</tspan><tspan font-size="4.76" dy="-3.15">+</tspan></text>
<text x="505.00" y="307.80" font-size="7.0" fill="#2a3ad6" stroke="#2a3ad6" stroke-width="0.08" text-anchor="start"><tspan dy="0.00">Na</tspan><tspan font-size="4.76" dy="-3.15">+</tspan></text>
<text x="521.20" y="325.30" font-size="7.0" fill="#2a3ad6" stroke="#2a3ad6" stroke-width="0.08" text-anchor="start"><tspan dy="0.00">Na</tspan><tspan font-size="4.76" dy="-3.15">+</tspan></text>
<text x="578.00" y="325.30" font-size="7.0" fill="#2a3ad6" stroke="#2a3ad6" stroke-width="0.08" text-anchor="start"><tspan dy="0.00">Na</tspan><tspan font-size="4.76" dy="-3.15">+</tspan></text>
<line x1="533.90" y1="266.20" x2="538.80" y2="273.60" stroke="#5a6ae0" stroke-width="0.5" />
<line x1="515.50" y1="304.00" x2="532.20" y2="299.80" stroke="#5a6ae0" stroke-width="0.5" />
<line x1="531.40" y1="320.60" x2="541.20" y2="312.10" stroke="#5a6ae0" stroke-width="0.5" />
<line x1="583.90" y1="319.50" x2="583.90" y2="307.40" stroke="#5a6ae0" stroke-width="0.5" />
</svg></body></html>
